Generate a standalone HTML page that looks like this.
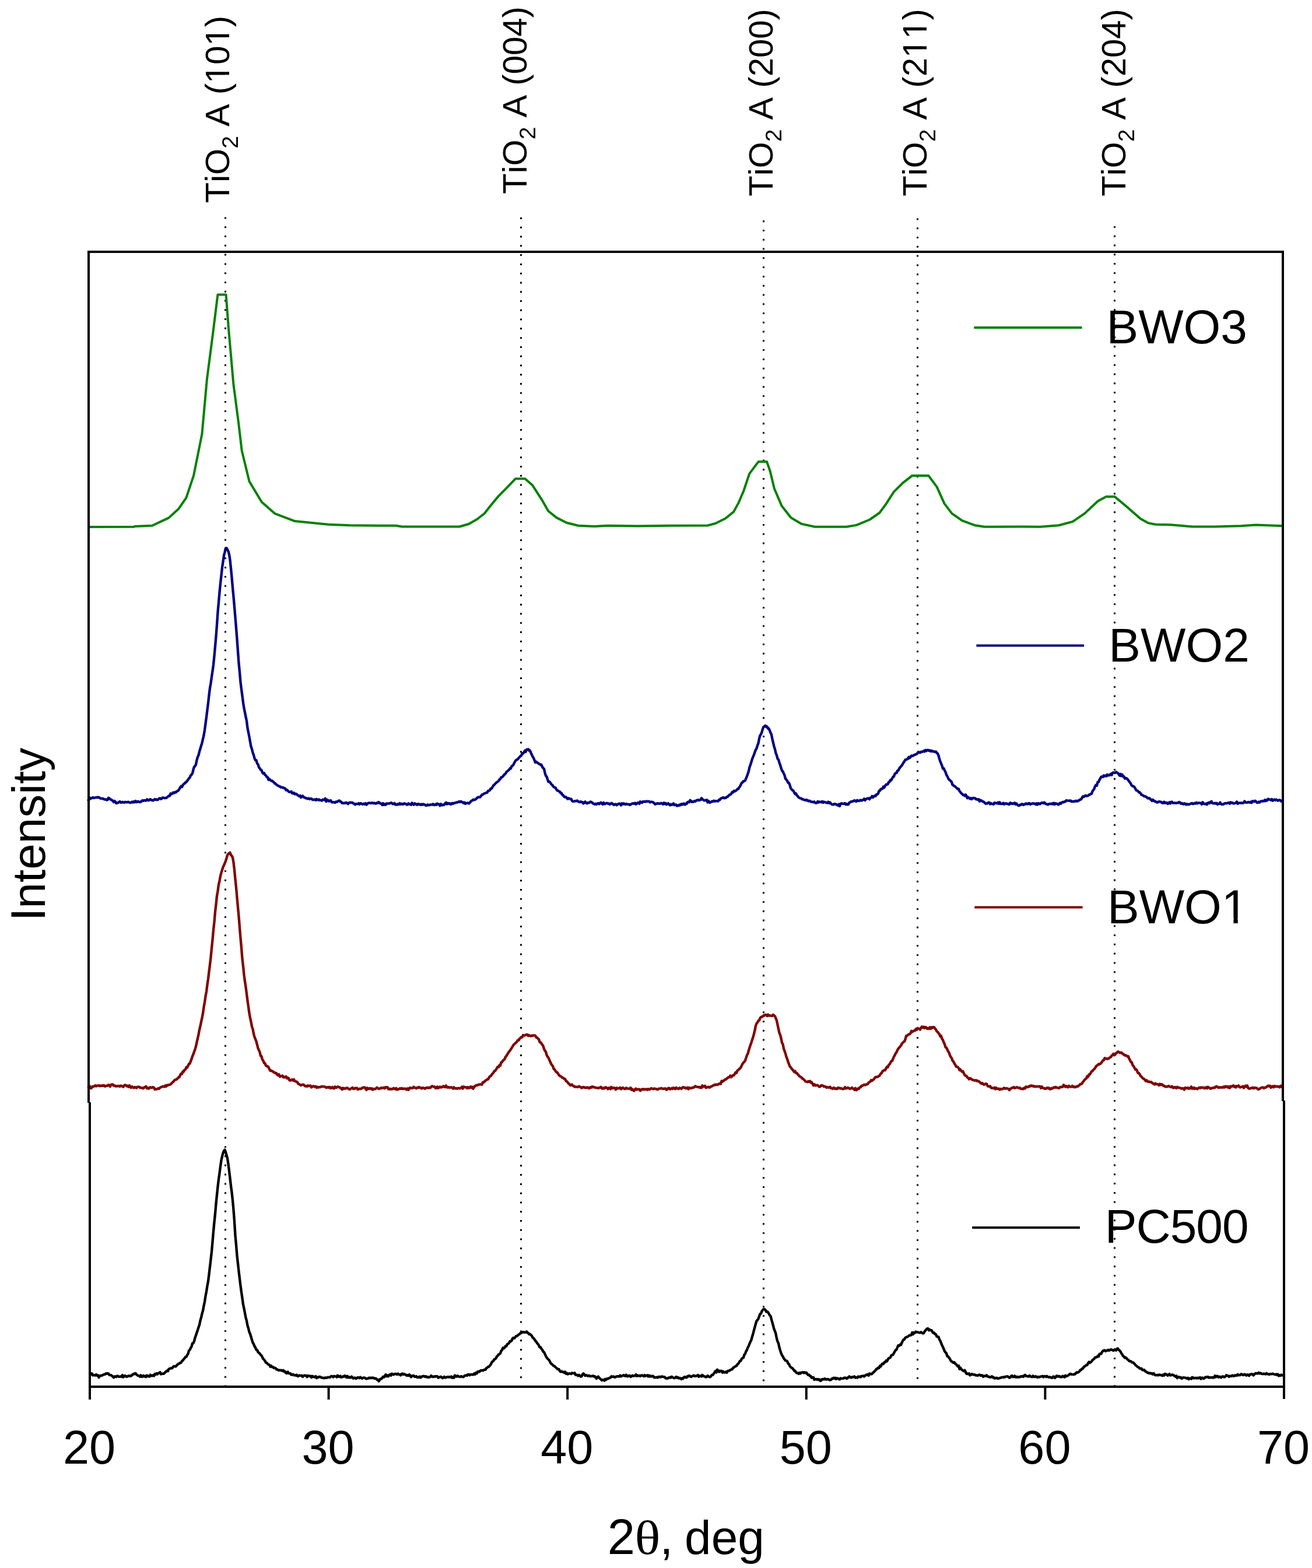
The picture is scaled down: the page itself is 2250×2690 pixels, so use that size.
<!DOCTYPE html><html><head><meta charset="utf-8"><style>html,body{margin:0;padding:0;background:#fff;width:2250px;height:2690px;overflow:hidden}svg{display:block}text{font-family:"Liberation Sans",Arial,sans-serif;fill:#000;font-kerning:none}</style></head><body>
<svg width="2250" height="2690" viewBox="0 0 2250 2690">
<rect width="2250" height="2690" fill="#fff"/>
<line x1="386.5" y1="372.5" x2="386.5" y2="2377" stroke="#000" stroke-width="3" stroke-dasharray="3 12.78"/>
<line x1="893.5" y1="373.0" x2="893.5" y2="2377" stroke="#000" stroke-width="3" stroke-dasharray="3 12.78"/>
<line x1="1309.5" y1="378.2" x2="1309.5" y2="2377" stroke="#000" stroke-width="3" stroke-dasharray="3 12.78"/>
<line x1="1573.5" y1="374.5" x2="1573.5" y2="2377" stroke="#000" stroke-width="3" stroke-dasharray="3 12.78"/>
<line x1="1911.5" y1="388.0" x2="1911.5" y2="2377" stroke="#000" stroke-width="3" stroke-dasharray="3 12.78"/>
<g fill="none" stroke-width="4.4" stroke-linejoin="round" stroke-linecap="butt">
<path stroke="#008000" stroke-width="4" d="M150.0 904.0L229.7 903.8 231.0 903.0 261.0 901.7 289.4 888.4 306.5 872.7 319.3 854.2 332.1 815.8 346.4 744.7 354.9 650.7 364.9 573.9 373.4 505.6 387.6 505.6 391.9 562.5 400.4 659.3 409.0 724.7 414.7 773.1 427.5 825.8 448.8 861.3 471.6 881.2 505.7 894.1 562.6 899.8 600.0 901.2 650.0 901.8 678.5 901.8 689.8 903.5 788.0 903.5 803.7 899.0 817.9 891.0 830.7 881.0 840.7 868.2 854.9 851.1 869.1 836.9 883.9 821.3 900.4 821.3 913.2 832.6 928.9 856.8 940.3 876.8 954.5 888.1 971.6 896.7 991.5 901.8 1020.0 903.0 1042.7 901.8 1094.0 902.4 1150.0 901.8 1214.0 901.4 1226.8 898.0 1243.9 889.5 1258.1 878.1 1266.7 862.4 1275.2 842.5 1285.2 812.6 1300.8 791.9 1315.0 791.9 1320.7 808.4 1327.9 838.3 1340.7 868.1 1356.3 888.1 1374.8 898.9 1397.6 903.7 1451.6 903.7 1468.7 900.9 1491.5 891.5 1508.6 879.5 1520.0 863.9 1532.8 843.9 1548.4 828.3 1564.1 816.1 1592.5 816.1 1606.7 835.4 1619.5 863.9 1632.4 880.9 1650.0 893.2 1672.3 901.3 1688.2 903.8 1755.2 903.5 1783.9 903.8 1815.7 901.3 1839.6 894.9 1860.4 880.6 1882.7 859.8 1897.0 851.9 1911.4 851.9 1930.5 867.8 1956.0 890.1 1968.7 897.1 1981.5 899.7 2007.0 900.3 2045.2 903.5 2083.5 903.5 2128.1 902.2 2153.6 900.6 2200.0 902.2"/>
<path stroke="#000080" d="M150.0 1374.1L151.5 1373.2 153.0 1371.5 154.5 1368.8 156.0 1369.9 157.5 1369.0 159.0 1368.0 160.5 1369.0 162.0 1368.7 163.5 1368.4 165.0 1367.9 166.5 1368.4 168.0 1367.4 169.5 1368.4 171.0 1368.5 172.5 1369.9 174.0 1369.9 175.5 1370.0 177.0 1370.1 178.5 1371.1 180.0 1371.6 181.5 1371.4 183.0 1372.6 184.5 1372.1 186.0 1368.7 187.5 1369.6 189.0 1371.4 190.5 1371.7 192.0 1373.0 193.5 1373.8 195.0 1376.2 196.5 1374.1 198.0 1375.5 199.5 1378.2 201.0 1377.2 202.5 1377.2 204.0 1376.1 205.5 1375.0 207.0 1376.7 208.5 1376.8 210.0 1375.8 211.5 1376.4 213.0 1376.8 214.5 1375.8 216.0 1376.2 217.5 1376.2 219.0 1376.2 220.5 1375.7 222.0 1376.8 223.5 1377.1 225.0 1376.6 226.5 1375.5 228.0 1376.6 229.5 1375.1 231.0 1376.1 232.5 1374.2 234.0 1376.1 235.5 1375.6 237.0 1374.8 238.5 1375.8 240.0 1376.0 241.5 1375.7 243.0 1374.0 244.5 1373.2 246.0 1373.9 247.5 1373.0 249.0 1373.4 250.5 1373.7 252.0 1371.3 253.5 1372.6 255.0 1373.2 256.5 1371.7 258.0 1371.2 259.5 1372.8 261.0 1372.6 262.5 1373.4 264.0 1372.3 265.5 1371.0 267.0 1372.0 268.5 1371.4 270.0 1372.3 271.5 1371.5 273.0 1369.6 274.5 1369.5 276.0 1370.7 277.5 1369.9 279.0 1368.3 280.5 1368.7 282.0 1369.1 283.5 1369.0 285.0 1369.0 286.5 1367.9 288.0 1366.6 289.5 1365.3 291.0 1365.4 292.5 1361.4 294.0 1362.4 295.5 1361.6 297.0 1359.6 298.5 1360.5 300.0 1358.9 301.5 1359.5 303.0 1357.7 304.5 1357.2 306.0 1356.2 307.5 1353.7 309.0 1350.9 310.5 1348.7 312.0 1350.2 313.5 1347.0 315.0 1345.0 316.5 1344.3 318.0 1342.4 319.5 1341.8 321.0 1339.5 322.5 1337.8 324.0 1335.2 325.5 1334.1 327.0 1330.3 328.5 1329.1 330.0 1326.8 331.5 1320.4 333.0 1315.7 334.5 1314.3 336.0 1311.6 337.5 1303.8 339.0 1298.8 340.5 1295.5 342.0 1289.2 343.5 1284.5 345.0 1279.4 346.5 1274.6 348.0 1267.7 349.5 1261.5 351.0 1252.5 352.5 1241.4 354.0 1230.3 355.5 1217.9 357.0 1206.2 358.5 1192.6 360.0 1180.6 361.5 1172.1 363.0 1161.2 364.5 1151.3 366.0 1140.3 367.5 1125.4 369.0 1108.9 370.5 1091.8 372.0 1072.1 373.5 1050.1 375.0 1033.4 376.5 1016.2 378.0 1001.1 379.5 987.4 381.0 973.8 382.5 963.5 384.0 952.9 385.5 947.5 387.0 940.5 388.5 940.3 390.0 942.6 391.5 945.7 393.0 951.1 394.5 960.6 396.0 975.1 397.5 990.7 399.0 1007.9 400.5 1023.7 402.0 1040.7 403.5 1058.9 405.0 1077.3 406.5 1096.4 408.0 1117.2 409.5 1137.8 411.0 1153.1 412.5 1170.2 414.0 1182.4 415.5 1193.6 417.0 1205.4 418.5 1214.9 420.0 1222.2 421.5 1229.7 423.0 1236.8 424.5 1249.0 426.0 1256.5 427.5 1263.9 429.0 1272.7 430.5 1280.8 432.0 1285.0 433.5 1291.3 435.0 1295.2 436.5 1300.8 438.0 1304.2 439.5 1304.1 441.0 1309.7 442.5 1311.2 444.0 1316.4 445.5 1318.0 447.0 1320.6 448.5 1321.1 450.0 1325.4 451.5 1327.1 453.0 1326.1 454.5 1329.4 456.0 1330.4 457.5 1332.9 459.0 1333.6 460.5 1337.9 462.0 1336.5 463.5 1338.0 465.0 1339.5 466.5 1339.4 468.0 1340.9 469.5 1341.9 471.0 1343.8 472.5 1344.3 474.0 1346.1 475.5 1347.2 477.0 1347.8 478.5 1348.9 480.0 1349.2 481.5 1350.7 483.0 1350.4 484.5 1351.2 486.0 1351.3 487.5 1352.2 489.0 1352.6 490.5 1355.4 492.0 1355.0 493.5 1356.3 495.0 1358.1 496.5 1358.8 498.0 1358.7 499.5 1357.9 501.0 1360.7 502.5 1361.2 504.0 1360.1 505.5 1362.5 507.0 1361.8 508.5 1362.2 510.0 1364.1 511.5 1364.8 513.0 1365.9 514.5 1364.8 516.0 1368.1 517.5 1366.0 519.0 1365.3 520.5 1367.7 522.0 1367.6 523.5 1369.0 525.0 1369.2 526.5 1369.9 528.0 1370.4 529.5 1369.5 531.0 1370.9 532.5 1370.1 534.0 1370.2 535.5 1371.6 537.0 1372.2 538.5 1371.8 540.0 1371.4 541.5 1372.9 543.0 1370.8 544.5 1371.7 546.0 1372.7 547.5 1371.5 549.0 1372.9 550.5 1372.9 552.0 1373.6 553.5 1371.8 555.0 1371.8 556.5 1372.4 558.0 1369.9 559.5 1375.1 561.0 1372.1 562.5 1372.7 564.0 1374.6 565.5 1374.2 567.0 1373.1 568.5 1375.7 570.0 1376.5 571.5 1376.0 573.0 1376.5 574.5 1377.1 576.0 1375.4 577.5 1375.9 579.0 1375.0 580.5 1373.9 582.0 1373.5 583.5 1375.2 585.0 1375.5 586.5 1377.8 588.0 1377.4 589.5 1378.1 591.0 1377.5 592.5 1377.6 594.0 1376.7 595.5 1378.2 597.0 1379.2 598.5 1377.2 600.0 1376.7 601.5 1377.0 603.0 1376.8 604.5 1377.0 606.0 1378.4 607.5 1378.6 609.0 1380.4 610.5 1379.1 612.0 1379.1 613.5 1379.4 615.0 1378.1 616.5 1379.8 618.0 1378.2 619.5 1378.5 621.0 1379.4 622.5 1379.8 624.0 1378.7 625.5 1379.8 627.0 1378.2 628.5 1380.6 630.0 1378.9 631.5 1377.9 633.0 1377.4 634.5 1377.7 636.0 1377.9 637.5 1377.3 639.0 1377.5 640.5 1378.1 642.0 1377.5 643.5 1378.5 645.0 1378.5 646.5 1377.3 648.0 1377.6 649.5 1376.0 651.0 1378.0 652.5 1377.9 654.0 1379.1 655.5 1381.0 657.0 1378.1 658.5 1380.8 660.0 1379.5 661.5 1380.7 663.0 1378.4 664.5 1378.5 666.0 1378.6 667.5 1378.5 669.0 1377.9 670.5 1377.2 672.0 1377.7 673.5 1379.3 675.0 1379.0 676.5 1377.9 678.0 1380.5 679.5 1380.2 681.0 1380.5 682.5 1379.2 684.0 1380.0 685.5 1378.2 687.0 1379.8 688.5 1378.8 690.0 1379.7 691.5 1379.9 693.0 1378.2 694.5 1378.9 696.0 1379.2 697.5 1380.5 699.0 1380.3 700.5 1378.4 702.0 1379.7 703.5 1379.7 705.0 1380.8 706.5 1377.4 708.0 1378.7 709.5 1380.6 711.0 1378.4 712.5 1378.7 714.0 1380.3 715.5 1380.7 717.0 1379.1 718.5 1380.1 720.0 1379.6 721.5 1380.9 723.0 1379.6 724.5 1380.7 726.0 1379.4 727.5 1380.4 729.0 1380.7 730.5 1382.1 732.0 1381.6 733.5 1380.3 735.0 1381.4 736.5 1381.2 738.0 1380.4 739.5 1380.4 741.0 1380.6 742.5 1379.4 744.0 1381.1 745.5 1380.9 747.0 1379.5 748.5 1380.7 750.0 1378.6 751.5 1379.5 753.0 1379.8 754.5 1382.3 756.0 1379.2 757.5 1381.2 759.0 1381.3 760.5 1380.4 762.0 1380.7 763.5 1378.2 765.0 1376.8 766.5 1379.5 768.0 1377.9 769.5 1378.7 771.0 1378.0 772.5 1379.9 774.0 1379.5 775.5 1377.7 777.0 1378.8 778.5 1377.9 780.0 1377.4 781.5 1377.2 783.0 1376.4 784.5 1376.6 786.0 1375.8 787.5 1374.9 789.0 1376.0 790.5 1374.7 792.0 1375.9 793.5 1376.4 795.0 1377.8 796.5 1376.5 798.0 1378.9 799.5 1377.9 801.0 1377.8 802.5 1377.5 804.0 1378.5 805.5 1377.4 807.0 1375.3 808.5 1374.0 810.0 1373.1 811.5 1371.8 813.0 1372.4 814.5 1371.9 816.0 1370.8 817.5 1369.6 819.0 1368.1 820.5 1367.6 822.0 1367.4 823.5 1367.5 825.0 1365.5 826.5 1363.5 828.0 1363.1 829.5 1362.0 831.0 1361.0 832.5 1360.7 834.0 1359.8 835.5 1359.8 837.0 1356.8 838.5 1356.6 840.0 1355.7 841.5 1352.9 843.0 1352.9 844.5 1350.4 846.0 1347.7 847.5 1346.6 849.0 1344.9 850.5 1343.2 852.0 1342.0 853.5 1341.0 855.0 1339.9 856.5 1337.3 858.0 1336.5 859.5 1333.5 861.0 1333.4 862.5 1332.0 864.0 1329.9 865.5 1328.4 867.0 1327.1 868.5 1324.4 870.0 1323.1 871.5 1322.0 873.0 1320.6 874.5 1318.3 876.0 1318.5 877.5 1314.4 879.0 1313.6 880.5 1312.0 882.0 1308.7 883.5 1306.1 885.0 1303.9 886.5 1303.2 888.0 1302.5 889.5 1300.3 891.0 1298.9 892.5 1297.0 894.0 1296.4 895.5 1292.3 897.0 1292.7 898.5 1290.8 900.0 1287.9 901.5 1289.9 903.0 1285.9 904.5 1285.6 906.0 1285.3 907.5 1287.9 909.0 1287.7 910.5 1291.6 912.0 1294.7 913.5 1298.1 915.0 1300.3 916.5 1304.0 918.0 1308.1 919.5 1306.7 921.0 1307.9 922.5 1309.0 924.0 1310.4 925.5 1310.6 927.0 1312.2 928.5 1312.0 930.0 1315.6 931.5 1317.6 933.0 1319.0 934.5 1325.8 936.0 1330.7 937.5 1332.3 939.0 1337.0 940.5 1341.2 942.0 1340.9 943.5 1342.4 945.0 1344.6 946.5 1346.5 948.0 1347.6 949.5 1350.0 951.0 1351.1 952.5 1351.1 954.0 1353.9 955.5 1356.1 957.0 1356.5 958.5 1357.6 960.0 1358.1 961.5 1360.7 963.0 1360.6 964.5 1363.8 966.0 1364.5 967.5 1366.9 969.0 1367.6 970.5 1367.2 972.0 1369.1 973.5 1370.7 975.0 1369.2 976.5 1370.3 978.0 1370.7 979.5 1370.8 981.0 1373.8 982.5 1374.8 984.0 1374.8 985.5 1374.5 987.0 1374.2 988.5 1374.4 990.0 1373.5 991.5 1375.1 993.0 1375.6 994.5 1376.0 996.0 1375.1 997.5 1376.1 999.0 1376.3 1000.5 1378.4 1002.0 1377.2 1003.5 1375.3 1005.0 1377.2 1006.5 1378.4 1008.0 1377.2 1009.5 1377.4 1011.0 1376.9 1012.5 1375.4 1014.0 1376.0 1015.5 1376.9 1017.0 1378.4 1018.5 1379.1 1020.0 1379.8 1021.5 1378.9 1023.0 1379.9 1024.5 1378.6 1026.0 1377.9 1027.5 1379.4 1029.0 1378.0 1030.5 1376.8 1032.0 1378.6 1033.5 1379.8 1035.0 1376.9 1036.5 1379.2 1038.0 1379.0 1039.5 1377.9 1041.0 1377.8 1042.5 1378.7 1044.0 1378.5 1045.5 1380.1 1047.0 1379.3 1048.5 1377.7 1050.0 1378.4 1051.5 1379.9 1053.0 1380.9 1054.5 1379.6 1056.0 1379.7 1057.5 1381.3 1059.0 1379.7 1060.5 1379.5 1062.0 1378.4 1063.5 1379.1 1065.0 1381.5 1066.5 1378.4 1068.0 1379.7 1069.5 1378.3 1071.0 1379.5 1072.5 1380.1 1074.0 1379.0 1075.5 1379.9 1077.0 1379.9 1078.5 1379.7 1080.0 1380.9 1081.5 1380.2 1083.0 1379.2 1084.5 1378.7 1086.0 1378.2 1087.5 1378.8 1089.0 1377.5 1090.5 1379.8 1092.0 1378.9 1093.5 1377.1 1095.0 1377.0 1096.5 1378.8 1098.0 1375.3 1099.5 1376.2 1101.0 1377.1 1102.5 1375.1 1104.0 1375.2 1105.5 1375.0 1107.0 1375.5 1108.5 1374.7 1110.0 1374.7 1111.5 1374.9 1113.0 1374.8 1114.5 1376.5 1116.0 1375.6 1117.5 1375.6 1119.0 1375.9 1120.5 1376.6 1122.0 1378.0 1123.5 1379.7 1125.0 1379.1 1126.5 1378.5 1128.0 1378.1 1129.5 1378.6 1131.0 1378.7 1132.5 1378.5 1134.0 1377.7 1135.5 1378.4 1137.0 1379.8 1138.5 1377.2 1140.0 1379.2 1141.5 1377.8 1143.0 1380.2 1144.5 1379.4 1146.0 1378.2 1147.5 1380.1 1149.0 1381.5 1150.5 1379.8 1152.0 1380.8 1153.5 1379.8 1155.0 1378.4 1156.5 1381.2 1158.0 1380.9 1159.5 1380.4 1161.0 1382.6 1162.5 1382.1 1164.0 1381.0 1165.5 1381.8 1167.0 1379.7 1168.5 1380.7 1170.0 1379.0 1171.5 1380.1 1173.0 1378.5 1174.5 1380.5 1176.0 1378.7 1177.5 1379.0 1179.0 1376.1 1180.5 1375.7 1182.0 1376.3 1183.5 1372.8 1185.0 1374.2 1186.5 1375.9 1188.0 1375.3 1189.5 1375.6 1191.0 1374.2 1192.5 1374.8 1194.0 1373.5 1195.5 1372.7 1197.0 1372.3 1198.5 1373.0 1200.0 1372.6 1201.5 1372.2 1203.0 1369.3 1204.5 1370.7 1206.0 1372.2 1207.5 1373.3 1209.0 1372.9 1210.5 1373.1 1212.0 1372.2 1213.5 1376.5 1215.0 1374.0 1216.5 1376.7 1218.0 1376.8 1219.5 1375.6 1221.0 1374.7 1222.5 1375.1 1224.0 1373.7 1225.5 1374.7 1227.0 1374.2 1228.5 1374.4 1230.0 1374.4 1231.5 1374.6 1233.0 1372.0 1234.5 1372.4 1236.0 1370.0 1237.5 1369.2 1239.0 1368.8 1240.5 1368.0 1242.0 1369.3 1243.5 1368.8 1245.0 1368.7 1246.5 1367.0 1248.0 1366.7 1249.5 1365.1 1251.0 1363.4 1252.5 1363.4 1254.0 1361.7 1255.5 1359.1 1257.0 1359.5 1258.5 1356.7 1260.0 1357.6 1261.5 1356.6 1263.0 1355.8 1264.5 1353.8 1266.0 1353.6 1267.5 1351.0 1269.0 1349.2 1270.5 1346.1 1272.0 1343.0 1273.5 1342.2 1275.0 1340.1 1276.5 1340.0 1278.0 1338.8 1279.5 1335.4 1281.0 1331.4 1282.5 1327.4 1284.0 1322.8 1285.5 1315.9 1287.0 1312.0 1288.5 1307.1 1290.0 1302.1 1291.5 1298.2 1293.0 1294.9 1294.5 1290.2 1296.0 1286.4 1297.5 1283.8 1299.0 1278.8 1300.5 1275.1 1302.0 1267.3 1303.5 1261.6 1305.0 1259.8 1306.5 1256.0 1308.0 1250.7 1309.5 1246.9 1311.0 1246.4 1312.5 1244.9 1314.0 1246.9 1315.5 1246.4 1317.0 1249.8 1318.5 1249.8 1320.0 1253.3 1321.5 1257.1 1323.0 1260.3 1324.5 1268.0 1326.0 1274.1 1327.5 1280.6 1329.0 1285.2 1330.5 1292.2 1332.0 1295.7 1333.5 1301.6 1335.0 1303.2 1336.5 1308.2 1338.0 1312.4 1339.5 1317.5 1341.0 1321.8 1342.5 1323.5 1344.0 1326.9 1345.5 1330.0 1347.0 1335.9 1348.5 1337.4 1350.0 1339.5 1351.5 1342.7 1353.0 1343.2 1354.5 1346.9 1356.0 1352.2 1357.5 1354.1 1359.0 1355.8 1360.5 1356.4 1362.0 1359.4 1363.5 1362.2 1365.0 1361.3 1366.5 1364.4 1368.0 1365.8 1369.5 1367.9 1371.0 1368.7 1372.5 1369.4 1374.0 1369.6 1375.5 1371.1 1377.0 1371.2 1378.5 1372.0 1380.0 1372.3 1381.5 1373.1 1383.0 1372.1 1384.5 1372.7 1386.0 1374.4 1387.5 1373.7 1389.0 1374.1 1390.5 1375.5 1392.0 1375.5 1393.5 1375.8 1395.0 1376.4 1396.5 1375.4 1398.0 1377.0 1399.5 1377.8 1401.0 1377.0 1402.5 1374.9 1404.0 1376.6 1405.5 1375.5 1407.0 1376.0 1408.5 1376.2 1410.0 1374.9 1411.5 1377.0 1413.0 1375.6 1414.5 1376.4 1416.0 1376.4 1417.5 1377.2 1419.0 1377.5 1420.5 1375.7 1422.0 1377.8 1423.5 1376.5 1425.0 1378.6 1426.5 1380.0 1428.0 1380.2 1429.5 1380.4 1431.0 1378.9 1432.5 1379.6 1434.0 1379.8 1435.5 1381.2 1437.0 1381.7 1438.5 1379.7 1440.0 1383.0 1441.5 1379.1 1443.0 1378.2 1444.5 1378.8 1446.0 1378.9 1447.5 1378.9 1449.0 1378.0 1450.5 1380.1 1452.0 1379.0 1453.5 1380.4 1455.0 1379.9 1456.5 1376.9 1458.0 1376.2 1459.5 1375.1 1461.0 1375.3 1462.5 1374.4 1464.0 1374.2 1465.5 1373.1 1467.0 1374.3 1468.5 1375.2 1470.0 1372.8 1471.5 1373.9 1473.0 1374.0 1474.5 1373.2 1476.0 1372.4 1477.5 1373.6 1479.0 1372.8 1480.5 1372.1 1482.0 1370.4 1483.5 1373.0 1485.0 1371.1 1486.5 1370.0 1488.0 1369.9 1489.5 1369.4 1491.0 1371.2 1492.5 1368.9 1494.0 1368.3 1495.5 1365.9 1497.0 1368.2 1498.5 1366.1 1500.0 1365.3 1501.5 1365.8 1503.0 1363.0 1504.5 1362.8 1506.0 1361.2 1507.5 1356.8 1509.0 1356.5 1510.5 1353.6 1512.0 1353.5 1513.5 1352.9 1515.0 1349.5 1516.5 1351.1 1518.0 1348.0 1519.5 1346.0 1521.0 1345.8 1522.5 1345.3 1524.0 1341.9 1525.5 1341.4 1527.0 1338.2 1528.5 1338.5 1530.0 1335.5 1531.5 1332.9 1533.0 1332.0 1534.5 1327.7 1536.0 1326.2 1537.5 1326.1 1539.0 1322.3 1540.5 1321.8 1542.0 1319.0 1543.5 1316.5 1545.0 1315.0 1546.5 1313.3 1548.0 1310.8 1549.5 1308.2 1551.0 1306.1 1552.5 1303.5 1554.0 1303.3 1555.5 1302.3 1557.0 1301.7 1558.5 1298.7 1560.0 1300.3 1561.5 1298.7 1563.0 1296.4 1564.5 1296.8 1566.0 1296.5 1567.5 1295.3 1569.0 1294.7 1570.5 1294.2 1572.0 1293.5 1573.5 1292.2 1575.0 1290.0 1576.5 1290.8 1578.0 1291.3 1579.5 1289.8 1581.0 1290.0 1582.5 1289.3 1584.0 1288.1 1585.5 1289.5 1587.0 1286.7 1588.5 1288.3 1590.0 1287.0 1591.5 1286.6 1593.0 1288.0 1594.5 1287.2 1596.0 1288.9 1597.5 1287.7 1599.0 1289.2 1600.5 1288.8 1602.0 1289.6 1603.5 1289.8 1605.0 1289.4 1606.5 1291.9 1608.0 1292.5 1609.5 1296.1 1611.0 1301.9 1612.5 1306.2 1614.0 1310.0 1615.5 1313.6 1617.0 1318.5 1618.5 1318.3 1620.0 1321.7 1621.5 1324.5 1623.0 1329.2 1624.5 1331.5 1626.0 1335.0 1627.5 1337.4 1629.0 1338.5 1630.5 1340.0 1632.0 1341.7 1633.5 1346.5 1635.0 1347.2 1636.5 1348.6 1638.0 1349.3 1639.5 1350.9 1641.0 1352.2 1642.5 1353.7 1644.0 1353.4 1645.5 1357.2 1647.0 1358.7 1648.5 1360.9 1650.0 1362.1 1651.5 1363.7 1653.0 1363.8 1654.5 1365.4 1656.0 1363.3 1657.5 1365.7 1659.0 1369.3 1660.5 1367.6 1662.0 1369.1 1663.5 1370.5 1665.0 1369.3 1666.5 1370.9 1668.0 1369.2 1669.5 1368.9 1671.0 1369.6 1672.5 1369.5 1674.0 1371.3 1675.5 1371.2 1677.0 1372.1 1678.5 1371.2 1680.0 1374.8 1681.5 1372.8 1683.0 1373.3 1684.5 1374.7 1686.0 1375.1 1687.5 1375.9 1689.0 1377.5 1690.5 1378.8 1692.0 1378.4 1693.5 1378.3 1695.0 1376.8 1696.5 1376.7 1698.0 1379.5 1699.5 1378.0 1701.0 1379.0 1702.5 1379.3 1704.0 1379.8 1705.5 1377.0 1707.0 1377.7 1708.5 1377.9 1710.0 1378.3 1711.5 1376.7 1713.0 1379.0 1714.5 1376.4 1716.0 1379.1 1717.5 1379.1 1719.0 1379.0 1720.5 1377.5 1722.0 1379.8 1723.5 1378.4 1725.0 1378.4 1726.5 1378.8 1728.0 1379.0 1729.5 1379.8 1731.0 1380.1 1732.5 1377.2 1734.0 1378.2 1735.5 1379.1 1737.0 1378.3 1738.5 1378.7 1740.0 1377.3 1741.5 1380.0 1743.0 1378.3 1744.5 1380.4 1746.0 1381.7 1747.5 1382.2 1749.0 1380.8 1750.5 1381.0 1752.0 1379.4 1753.5 1379.4 1755.0 1380.9 1756.5 1379.9 1758.0 1379.7 1759.5 1378.3 1761.0 1379.4 1762.5 1379.5 1764.0 1377.9 1765.5 1378.1 1767.0 1380.1 1768.5 1379.0 1770.0 1378.8 1771.5 1378.2 1773.0 1378.6 1774.5 1378.8 1776.0 1380.1 1777.5 1378.3 1779.0 1380.5 1780.5 1378.1 1782.0 1378.6 1783.5 1379.5 1785.0 1378.1 1786.5 1377.1 1788.0 1377.4 1789.5 1378.0 1791.0 1376.6 1792.5 1378.6 1794.0 1379.4 1795.5 1379.5 1797.0 1380.6 1798.5 1379.3 1800.0 1379.1 1801.5 1379.0 1803.0 1379.3 1804.5 1378.2 1806.0 1379.7 1807.5 1377.7 1809.0 1380.0 1810.5 1378.3 1812.0 1378.9 1813.5 1379.2 1815.0 1380.5 1816.5 1379.1 1818.0 1377.5 1819.5 1378.7 1821.0 1376.9 1822.5 1375.9 1824.0 1376.4 1825.5 1375.3 1827.0 1375.3 1828.5 1373.2 1830.0 1373.5 1831.5 1373.6 1833.0 1373.6 1834.5 1373.7 1836.0 1373.5 1837.5 1375.2 1839.0 1374.8 1840.5 1375.3 1842.0 1374.6 1843.5 1374.9 1845.0 1373.8 1846.5 1374.5 1848.0 1374.5 1849.5 1373.2 1851.0 1373.0 1852.5 1371.5 1854.0 1371.4 1855.5 1368.8 1857.0 1366.3 1858.5 1367.2 1860.0 1365.9 1861.5 1364.6 1863.0 1365.8 1864.5 1365.2 1866.0 1365.0 1867.5 1363.7 1869.0 1363.2 1870.5 1362.1 1872.0 1361.7 1873.5 1357.4 1875.0 1355.5 1876.5 1353.3 1878.0 1348.9 1879.5 1346.7 1881.0 1347.8 1882.5 1341.8 1884.0 1341.5 1885.5 1337.8 1887.0 1335.6 1888.5 1332.6 1890.0 1332.3 1891.5 1332.9 1893.0 1330.3 1894.5 1331.5 1896.0 1330.6 1897.5 1331.5 1899.0 1328.9 1900.5 1330.4 1902.0 1330.1 1903.5 1329.1 1905.0 1327.6 1906.5 1329.6 1908.0 1325.8 1909.5 1325.3 1911.0 1325.7 1912.5 1325.7 1914.0 1324.2 1915.5 1325.5 1917.0 1326.1 1918.5 1328.3 1920.0 1330.6 1921.5 1327.8 1923.0 1331.3 1924.5 1328.9 1926.0 1332.4 1927.5 1332.2 1929.0 1335.7 1930.5 1334.9 1932.0 1335.2 1933.5 1336.8 1935.0 1338.4 1936.5 1340.9 1938.0 1342.4 1939.5 1345.0 1941.0 1347.7 1942.5 1348.8 1944.0 1348.9 1945.5 1350.4 1947.0 1352.8 1948.5 1355.9 1950.0 1356.1 1951.5 1357.2 1953.0 1359.3 1954.5 1359.3 1956.0 1360.9 1957.5 1363.6 1959.0 1363.9 1960.5 1364.7 1962.0 1366.1 1963.5 1366.1 1965.0 1366.7 1966.5 1367.6 1968.0 1369.3 1969.5 1369.5 1971.0 1369.1 1972.5 1370.6 1974.0 1372.1 1975.5 1373.9 1977.0 1371.9 1978.5 1374.0 1980.0 1374.0 1981.5 1375.5 1983.0 1375.5 1984.5 1376.7 1986.0 1376.0 1987.5 1375.2 1989.0 1375.2 1990.5 1376.0 1992.0 1375.9 1993.5 1377.8 1995.0 1377.6 1996.5 1375.7 1998.0 1377.8 1999.5 1376.9 2001.0 1376.9 2002.5 1379.0 2004.0 1378.3 2005.5 1376.3 2007.0 1378.4 2008.5 1375.8 2010.0 1375.7 2011.5 1377.6 2013.0 1377.6 2014.5 1377.4 2016.0 1377.6 2017.5 1377.7 2019.0 1377.4 2020.5 1377.3 2022.0 1375.9 2023.5 1376.7 2025.0 1378.7 2026.5 1377.8 2028.0 1379.0 2029.5 1379.6 2031.0 1378.2 2032.5 1378.8 2034.0 1380.4 2035.5 1379.2 2037.0 1380.2 2038.5 1380.1 2040.0 1379.6 2041.5 1379.0 2043.0 1378.4 2044.5 1378.0 2046.0 1379.2 2047.5 1378.7 2049.0 1377.8 2050.5 1378.4 2052.0 1376.9 2053.5 1378.3 2055.0 1377.4 2056.5 1377.4 2058.0 1377.6 2059.5 1377.6 2061.0 1380.0 2062.5 1376.4 2064.0 1378.2 2065.5 1379.4 2067.0 1379.2 2068.5 1378.5 2070.0 1380.2 2071.5 1377.4 2073.0 1376.7 2074.5 1378.0 2076.0 1375.8 2077.5 1374.8 2079.0 1377.9 2080.5 1378.0 2082.0 1378.4 2083.5 1377.7 2085.0 1378.6 2086.5 1377.7 2088.0 1380.1 2089.5 1379.1 2091.0 1378.9 2092.5 1376.5 2094.0 1379.2 2095.5 1380.0 2097.0 1379.9 2098.5 1379.5 2100.0 1378.5 2101.5 1377.9 2103.0 1378.3 2104.5 1377.8 2106.0 1377.4 2107.5 1376.9 2109.0 1378.7 2110.5 1376.3 2112.0 1377.5 2113.5 1377.0 2115.0 1378.3 2116.5 1378.4 2118.0 1377.9 2119.5 1377.3 2121.0 1375.4 2122.5 1378.8 2124.0 1377.7 2125.5 1377.4 2127.0 1377.6 2128.5 1377.3 2130.0 1377.9 2131.5 1377.7 2133.0 1376.8 2134.5 1374.5 2136.0 1376.6 2137.5 1376.8 2139.0 1376.7 2140.5 1376.0 2142.0 1376.4 2143.5 1376.9 2145.0 1375.5 2146.5 1377.2 2148.0 1374.2 2149.5 1374.9 2151.0 1375.2 2152.5 1373.8 2154.0 1375.0 2155.5 1377.0 2157.0 1376.9 2158.5 1375.6 2160.0 1376.8 2161.5 1375.2 2163.0 1374.3 2164.5 1374.6 2166.0 1374.1 2167.5 1374.6 2169.0 1372.4 2170.5 1374.2 2172.0 1372.3 2173.5 1373.1 2175.0 1370.6 2176.5 1371.4 2178.0 1371.8 2179.5 1372.7 2181.0 1371.0 2182.5 1373.7 2184.0 1372.7 2185.5 1371.6 2187.0 1372.9 2188.5 1371.6 2190.0 1372.4 2191.5 1373.7 2193.0 1372.8 2194.5 1372.3 2196.0 1373.2 2197.5 1374.9 2199.0 1375.3"/>
<path stroke="#800000" d="M150.0 1866.1L151.5 1865.6 153.0 1865.7 154.5 1863.7 156.0 1867.1 157.5 1865.8 159.0 1863.8 160.5 1864.1 162.0 1863.2 163.5 1862.2 165.0 1863.5 166.5 1862.4 168.0 1862.5 169.5 1862.2 171.0 1863.2 172.5 1862.6 174.0 1863.0 175.5 1861.9 177.0 1862.7 178.5 1862.1 180.0 1863.7 181.5 1863.0 183.0 1862.8 184.5 1862.5 186.0 1861.1 187.5 1862.7 189.0 1864.0 190.5 1860.7 192.0 1860.5 193.5 1860.5 195.0 1862.7 196.5 1862.3 198.0 1863.5 199.5 1863.5 201.0 1863.2 202.5 1863.4 204.0 1863.0 205.5 1864.0 207.0 1862.4 208.5 1863.1 210.0 1863.6 211.5 1864.7 213.0 1862.0 214.5 1861.4 216.0 1861.9 217.5 1863.5 219.0 1862.7 220.5 1864.6 222.0 1862.2 223.5 1865.4 225.0 1865.9 226.5 1864.0 228.0 1865.4 229.5 1866.2 231.0 1865.0 232.5 1865.4 234.0 1866.5 235.5 1864.8 237.0 1864.6 238.5 1864.5 240.0 1866.1 241.5 1865.8 243.0 1866.3 244.5 1866.6 246.0 1867.2 247.5 1865.4 249.0 1864.8 250.5 1863.8 252.0 1867.2 253.5 1866.3 255.0 1867.6 256.5 1866.1 258.0 1865.2 259.5 1866.0 261.0 1865.6 262.5 1865.0 264.0 1866.0 265.5 1869.0 267.0 1868.3 268.5 1868.6 270.0 1867.9 271.5 1867.1 273.0 1867.7 274.5 1866.1 276.0 1864.9 277.5 1864.9 279.0 1863.7 280.5 1864.1 282.0 1864.4 283.5 1862.2 285.0 1863.8 286.5 1861.6 288.0 1862.1 289.5 1860.9 291.0 1860.9 292.5 1860.3 294.0 1858.7 295.5 1857.2 297.0 1855.9 298.5 1854.4 300.0 1852.5 301.5 1852.4 303.0 1851.5 304.5 1850.3 306.0 1848.3 307.5 1848.1 309.0 1844.4 310.5 1841.9 312.0 1842.4 313.5 1838.2 315.0 1838.5 316.5 1835.3 318.0 1834.9 319.5 1830.9 321.0 1831.5 322.5 1828.3 324.0 1825.1 325.5 1824.7 327.0 1820.8 328.5 1816.7 330.0 1812.2 331.5 1808.7 333.0 1804.2 334.5 1800.2 336.0 1795.2 337.5 1788.0 339.0 1781.6 340.5 1774.7 342.0 1766.7 343.5 1760.2 345.0 1753.3 346.5 1746.2 348.0 1738.5 349.5 1727.9 351.0 1719.7 352.5 1709.0 354.0 1701.3 355.5 1689.2 357.0 1679.3 358.5 1667.0 360.0 1655.0 361.5 1642.2 363.0 1626.8 364.5 1612.1 366.0 1595.2 367.5 1581.9 369.0 1564.3 370.5 1551.4 372.0 1537.1 373.5 1528.6 375.0 1517.5 376.5 1511.2 378.0 1502.9 379.5 1497.2 381.0 1492.4 382.5 1487.6 384.0 1484.3 385.5 1481.0 387.0 1477.2 388.5 1472.4 390.0 1467.2 391.5 1464.8 393.0 1464.0 394.5 1462.7 396.0 1466.8 397.5 1468.2 399.0 1471.2 400.5 1479.6 402.0 1492.6 403.5 1508.2 405.0 1522.6 406.5 1539.6 408.0 1556.4 409.5 1572.4 411.0 1591.4 412.5 1609.4 414.0 1625.7 415.5 1644.6 417.0 1657.6 418.5 1672.3 420.0 1683.7 421.5 1693.3 423.0 1704.7 424.5 1716.7 426.0 1726.9 427.5 1738.2 429.0 1746.1 430.5 1753.0 432.0 1761.1 433.5 1765.4 435.0 1773.3 436.5 1779.0 438.0 1782.6 439.5 1786.5 441.0 1792.3 442.5 1798.3 444.0 1801.5 445.5 1805.0 447.0 1811.5 448.5 1812.3 450.0 1817.8 451.5 1819.9 453.0 1823.7 454.5 1824.2 456.0 1828.1 457.5 1829.2 459.0 1829.3 460.5 1831.0 462.0 1834.1 463.5 1836.9 465.0 1836.8 466.5 1837.6 468.0 1838.0 469.5 1839.7 471.0 1840.2 472.5 1841.2 474.0 1841.0 475.5 1843.9 477.0 1844.8 478.5 1843.2 480.0 1847.1 481.5 1846.3 483.0 1846.0 484.5 1845.4 486.0 1848.2 487.5 1848.4 489.0 1847.5 490.5 1846.8 492.0 1849.9 493.5 1848.9 495.0 1849.8 496.5 1853.5 498.0 1853.5 499.5 1852.8 501.0 1852.0 502.5 1853.7 504.0 1851.8 505.5 1854.9 507.0 1855.1 508.5 1855.7 510.0 1856.6 511.5 1859.5 513.0 1860.0 514.5 1860.9 516.0 1862.1 517.5 1861.0 519.0 1860.9 520.5 1860.6 522.0 1862.3 523.5 1863.5 525.0 1863.0 526.5 1863.9 528.0 1862.3 529.5 1863.1 531.0 1862.9 532.5 1862.5 534.0 1865.4 535.5 1864.6 537.0 1863.3 538.5 1863.6 540.0 1864.5 541.5 1863.7 543.0 1865.9 544.5 1864.7 546.0 1865.6 547.5 1864.9 549.0 1865.2 550.5 1864.3 552.0 1863.8 553.5 1864.0 555.0 1864.1 556.5 1864.4 558.0 1864.7 559.5 1866.1 561.0 1865.6 562.5 1864.9 564.0 1865.9 565.5 1864.8 567.0 1866.9 568.5 1866.3 570.0 1864.9 571.5 1867.1 573.0 1867.3 574.5 1864.2 576.0 1865.8 577.5 1865.8 579.0 1864.2 580.5 1864.9 582.0 1865.0 583.5 1866.5 585.0 1866.7 586.5 1869.1 588.0 1866.5 589.5 1867.9 591.0 1867.1 592.5 1867.6 594.0 1866.6 595.5 1866.2 597.0 1867.4 598.5 1868.6 600.0 1868.9 601.5 1867.6 603.0 1867.2 604.5 1865.8 606.0 1868.0 607.5 1867.9 609.0 1866.5 610.5 1867.1 612.0 1866.6 613.5 1869.1 615.0 1868.3 616.5 1867.8 618.0 1868.0 619.5 1867.7 621.0 1866.6 622.5 1865.6 624.0 1865.7 625.5 1865.5 627.0 1867.9 628.5 1869.8 630.0 1866.4 631.5 1867.9 633.0 1868.0 634.5 1866.8 636.0 1868.1 637.5 1867.3 639.0 1869.6 640.5 1868.0 642.0 1868.3 643.5 1868.4 645.0 1867.1 646.5 1865.7 648.0 1866.9 649.5 1868.1 651.0 1867.4 652.5 1867.4 654.0 1865.9 655.5 1866.6 657.0 1866.6 658.5 1865.6 660.0 1867.1 661.5 1865.3 663.0 1865.1 664.5 1865.3 666.0 1868.4 667.5 1867.7 669.0 1868.7 670.5 1867.9 672.0 1868.6 673.5 1868.0 675.0 1866.7 676.5 1867.6 678.0 1868.7 679.5 1866.9 681.0 1869.2 682.5 1868.8 684.0 1868.4 685.5 1867.3 687.0 1867.8 688.5 1866.8 690.0 1868.1 691.5 1867.5 693.0 1868.0 694.5 1867.5 696.0 1868.3 697.5 1869.4 699.0 1867.4 700.5 1869.6 702.0 1866.8 703.5 1866.0 705.0 1867.0 706.5 1866.5 708.0 1866.5 709.5 1864.5 711.0 1866.0 712.5 1866.2 714.0 1867.2 715.5 1865.8 717.0 1866.2 718.5 1864.9 720.0 1865.9 721.5 1866.1 723.0 1867.5 724.5 1866.2 726.0 1866.2 727.5 1867.1 729.0 1867.8 730.5 1866.3 732.0 1866.2 733.5 1865.6 735.0 1866.6 736.5 1865.7 738.0 1866.2 739.5 1864.5 741.0 1863.3 742.5 1864.0 744.0 1864.2 745.5 1864.4 747.0 1866.9 748.5 1866.4 750.0 1864.3 751.5 1866.8 753.0 1865.4 754.5 1864.3 756.0 1865.5 757.5 1865.1 759.0 1864.5 760.5 1863.3 762.0 1864.8 763.5 1865.0 765.0 1862.4 766.5 1865.4 768.0 1865.7 769.5 1864.9 771.0 1865.8 772.5 1865.6 774.0 1865.3 775.5 1865.9 777.0 1867.6 778.5 1865.3 780.0 1867.1 781.5 1867.4 783.0 1867.0 784.5 1867.6 786.0 1866.8 787.5 1867.0 789.0 1867.1 790.5 1866.5 792.0 1864.5 793.5 1867.6 795.0 1864.2 796.5 1865.1 798.0 1865.2 799.5 1865.3 801.0 1866.9 802.5 1865.2 804.0 1866.6 805.5 1866.2 807.0 1864.1 808.5 1866.0 810.0 1864.6 811.5 1867.7 813.0 1864.7 814.5 1863.7 816.0 1862.1 817.5 1861.8 819.0 1861.7 820.5 1860.9 822.0 1860.4 823.5 1860.4 825.0 1860.2 826.5 1860.7 828.0 1856.8 829.5 1856.8 831.0 1855.4 832.5 1853.8 834.0 1852.9 835.5 1851.8 837.0 1851.6 838.5 1848.9 840.0 1846.8 841.5 1846.1 843.0 1844.1 844.5 1841.9 846.0 1840.7 847.5 1837.7 849.0 1837.2 850.5 1835.2 852.0 1832.7 853.5 1830.2 855.0 1830.8 856.5 1827.5 858.0 1828.0 859.5 1822.7 861.0 1822.2 862.5 1819.3 864.0 1818.3 865.5 1816.9 867.0 1813.2 868.5 1811.4 870.0 1809.0 871.5 1806.3 873.0 1804.2 874.5 1802.4 876.0 1800.2 877.5 1797.8 879.0 1795.4 880.5 1792.8 882.0 1791.3 883.5 1789.6 885.0 1789.1 886.5 1786.7 888.0 1784.5 889.5 1784.8 891.0 1782.0 892.5 1780.7 894.0 1779.8 895.5 1779.3 897.0 1775.8 898.5 1776.2 900.0 1776.6 901.5 1775.4 903.0 1774.7 904.5 1775.1 906.0 1777.1 907.5 1775.9 909.0 1777.2 910.5 1777.5 912.0 1776.4 913.5 1777.0 915.0 1776.2 916.5 1776.3 918.0 1776.6 919.5 1779.6 921.0 1780.1 922.5 1781.7 924.0 1783.0 925.5 1787.5 927.0 1788.4 928.5 1790.0 930.0 1792.2 931.5 1794.5 933.0 1799.3 934.5 1802.6 936.0 1804.3 937.5 1809.8 939.0 1812.7 940.5 1814.5 942.0 1818.1 943.5 1821.3 945.0 1824.8 946.5 1827.4 948.0 1828.6 949.5 1833.6 951.0 1834.6 952.5 1837.3 954.0 1839.2 955.5 1839.7 957.0 1842.0 958.5 1844.1 960.0 1845.9 961.5 1846.6 963.0 1847.3 964.5 1848.9 966.0 1849.2 967.5 1850.7 969.0 1850.9 970.5 1854.4 972.0 1855.2 973.5 1857.1 975.0 1858.7 976.5 1859.9 978.0 1862.0 979.5 1861.3 981.0 1860.6 982.5 1862.9 984.0 1863.1 985.5 1864.7 987.0 1864.3 988.5 1864.6 990.0 1864.8 991.5 1864.6 993.0 1863.4 994.5 1864.6 996.0 1865.4 997.5 1866.6 999.0 1865.2 1000.5 1865.0 1002.0 1865.7 1003.5 1865.5 1005.0 1866.4 1006.5 1865.7 1008.0 1865.4 1009.5 1866.8 1011.0 1867.1 1012.5 1865.2 1014.0 1865.7 1015.5 1864.0 1017.0 1865.2 1018.5 1864.8 1020.0 1865.7 1021.5 1865.8 1023.0 1866.3 1024.5 1866.4 1026.0 1866.8 1027.5 1866.4 1029.0 1865.4 1030.5 1864.7 1032.0 1867.1 1033.5 1867.6 1035.0 1866.2 1036.5 1867.3 1038.0 1865.5 1039.5 1865.5 1041.0 1866.7 1042.5 1868.4 1044.0 1866.2 1045.5 1866.3 1047.0 1868.3 1048.5 1864.9 1050.0 1867.0 1051.5 1866.7 1053.0 1866.1 1054.5 1866.7 1056.0 1869.3 1057.5 1866.3 1059.0 1867.2 1060.5 1867.2 1062.0 1866.6 1063.5 1865.8 1065.0 1868.4 1066.5 1867.3 1068.0 1865.9 1069.5 1867.1 1071.0 1868.1 1072.5 1868.1 1074.0 1866.2 1075.5 1867.3 1077.0 1867.5 1078.5 1867.6 1080.0 1867.7 1081.5 1866.0 1083.0 1869.7 1084.5 1868.6 1086.0 1870.4 1087.5 1871.5 1089.0 1868.7 1090.5 1867.6 1092.0 1869.4 1093.5 1868.6 1095.0 1868.7 1096.5 1868.6 1098.0 1871.3 1099.5 1869.5 1101.0 1868.5 1102.5 1869.1 1104.0 1868.2 1105.5 1869.4 1107.0 1868.9 1108.5 1868.4 1110.0 1869.7 1111.5 1868.2 1113.0 1869.0 1114.5 1869.1 1116.0 1867.5 1117.5 1867.2 1119.0 1867.8 1120.5 1868.3 1122.0 1867.5 1123.5 1867.8 1125.0 1868.1 1126.5 1868.8 1128.0 1869.2 1129.5 1867.8 1131.0 1867.6 1132.5 1867.6 1134.0 1866.8 1135.5 1867.5 1137.0 1868.0 1138.5 1867.8 1140.0 1867.4 1141.5 1867.4 1143.0 1869.7 1144.5 1868.8 1146.0 1866.7 1147.5 1866.6 1149.0 1868.6 1150.5 1868.1 1152.0 1866.8 1153.5 1868.0 1155.0 1866.0 1156.5 1867.6 1158.0 1868.3 1159.5 1865.9 1161.0 1866.7 1162.5 1867.8 1164.0 1868.0 1165.5 1866.3 1167.0 1867.0 1168.5 1868.0 1170.0 1866.0 1171.5 1865.0 1173.0 1866.1 1174.5 1865.7 1176.0 1867.3 1177.5 1866.5 1179.0 1865.7 1180.5 1868.6 1182.0 1866.0 1183.5 1866.8 1185.0 1866.8 1186.5 1866.5 1188.0 1865.7 1189.5 1865.7 1191.0 1864.7 1192.5 1863.3 1194.0 1864.4 1195.5 1864.6 1197.0 1864.9 1198.5 1865.4 1200.0 1864.8 1201.5 1866.3 1203.0 1866.1 1204.5 1862.3 1206.0 1864.3 1207.5 1864.1 1209.0 1862.9 1210.5 1866.1 1212.0 1865.3 1213.5 1865.3 1215.0 1864.6 1216.5 1865.7 1218.0 1865.2 1219.5 1863.7 1221.0 1863.6 1222.5 1862.3 1224.0 1862.0 1225.5 1860.8 1227.0 1861.3 1228.5 1860.4 1230.0 1861.0 1231.5 1860.6 1233.0 1859.2 1234.5 1859.0 1236.0 1859.5 1237.5 1854.4 1239.0 1855.6 1240.5 1854.3 1242.0 1853.5 1243.5 1851.7 1245.0 1851.7 1246.5 1850.3 1248.0 1848.9 1249.5 1848.4 1251.0 1847.4 1252.5 1845.4 1254.0 1848.0 1255.5 1846.1 1257.0 1844.6 1258.5 1844.7 1260.0 1842.5 1261.5 1839.7 1263.0 1840.8 1264.5 1836.7 1266.0 1835.9 1267.5 1834.0 1269.0 1833.1 1270.5 1831.0 1272.0 1828.0 1273.5 1825.0 1275.0 1822.9 1276.5 1821.6 1278.0 1819.3 1279.5 1814.9 1281.0 1810.2 1282.5 1807.8 1284.0 1802.1 1285.5 1797.3 1287.0 1792.6 1288.5 1788.7 1290.0 1783.7 1291.5 1779.1 1293.0 1773.8 1294.5 1767.5 1296.0 1759.7 1297.5 1755.8 1299.0 1754.2 1300.5 1751.1 1302.0 1750.7 1303.5 1746.7 1305.0 1744.8 1306.5 1744.6 1308.0 1743.9 1309.5 1742.0 1311.0 1742.3 1312.5 1740.8 1314.0 1741.1 1315.5 1743.0 1317.0 1740.5 1318.5 1742.5 1320.0 1742.2 1321.5 1742.4 1323.0 1742.8 1324.5 1742.8 1326.0 1740.7 1327.5 1742.2 1329.0 1743.4 1330.5 1747.1 1332.0 1750.7 1333.5 1758.0 1335.0 1764.8 1336.5 1772.0 1338.0 1775.3 1339.5 1781.1 1341.0 1788.5 1342.5 1791.4 1344.0 1798.7 1345.5 1803.1 1347.0 1807.2 1348.5 1813.0 1350.0 1816.7 1351.5 1821.7 1353.0 1825.4 1354.5 1829.5 1356.0 1830.8 1357.5 1833.3 1359.0 1834.7 1360.5 1836.8 1362.0 1839.0 1363.5 1837.5 1365.0 1840.9 1366.5 1840.9 1368.0 1842.8 1369.5 1844.5 1371.0 1846.3 1372.5 1847.2 1374.0 1847.9 1375.5 1849.8 1377.0 1850.8 1378.5 1851.9 1380.0 1853.6 1381.5 1855.4 1383.0 1855.7 1384.5 1856.3 1386.0 1855.1 1387.5 1856.0 1389.0 1854.6 1390.5 1857.3 1392.0 1856.5 1393.5 1859.5 1395.0 1862.1 1396.5 1860.0 1398.0 1862.3 1399.5 1862.1 1401.0 1861.7 1402.5 1861.9 1404.0 1863.6 1405.5 1864.6 1407.0 1863.8 1408.5 1861.9 1410.0 1862.1 1411.5 1862.7 1413.0 1864.2 1414.5 1863.7 1416.0 1864.4 1417.5 1865.9 1419.0 1865.1 1420.5 1865.6 1422.0 1865.7 1423.5 1864.5 1425.0 1866.8 1426.5 1867.1 1428.0 1867.9 1429.5 1866.1 1431.0 1866.6 1432.5 1868.1 1434.0 1867.4 1435.5 1868.1 1437.0 1866.0 1438.5 1867.0 1440.0 1866.4 1441.5 1867.5 1443.0 1867.0 1444.5 1868.0 1446.0 1868.3 1447.5 1867.6 1449.0 1865.1 1450.5 1867.4 1452.0 1867.0 1453.5 1865.9 1455.0 1866.4 1456.5 1867.4 1458.0 1868.0 1459.5 1867.0 1461.0 1865.9 1462.5 1867.6 1464.0 1867.6 1465.5 1869.9 1467.0 1866.7 1468.5 1870.2 1470.0 1869.3 1471.5 1867.5 1473.0 1867.8 1474.5 1865.3 1476.0 1865.0 1477.5 1862.6 1479.0 1862.8 1480.5 1861.6 1482.0 1860.8 1483.5 1861.5 1485.0 1860.4 1486.5 1860.4 1488.0 1859.8 1489.5 1857.3 1491.0 1856.4 1492.5 1855.6 1494.0 1853.1 1495.5 1854.0 1497.0 1852.8 1498.5 1851.6 1500.0 1849.5 1501.5 1847.6 1503.0 1848.0 1504.5 1847.4 1506.0 1847.1 1507.5 1845.7 1509.0 1844.5 1510.5 1841.8 1512.0 1840.7 1513.5 1837.7 1515.0 1836.8 1516.5 1835.7 1518.0 1836.1 1519.5 1832.8 1521.0 1830.2 1522.5 1831.0 1524.0 1827.2 1525.5 1825.8 1527.0 1823.3 1528.5 1820.4 1530.0 1820.0 1531.5 1816.7 1533.0 1812.8 1534.5 1810.4 1536.0 1807.0 1537.5 1805.1 1539.0 1801.7 1540.5 1799.1 1542.0 1797.3 1543.5 1795.5 1545.0 1794.0 1546.5 1790.7 1548.0 1789.1 1549.5 1787.4 1551.0 1786.9 1552.5 1783.2 1554.0 1777.3 1555.5 1777.2 1557.0 1775.3 1558.5 1774.4 1560.0 1774.4 1561.5 1772.6 1563.0 1768.9 1564.5 1770.2 1566.0 1769.0 1567.5 1768.3 1569.0 1768.3 1570.5 1765.4 1572.0 1766.7 1573.5 1763.7 1575.0 1764.9 1576.5 1765.0 1578.0 1766.4 1579.5 1763.1 1581.0 1761.4 1582.5 1763.0 1584.0 1761.5 1585.5 1763.6 1587.0 1762.0 1588.5 1762.5 1590.0 1764.9 1591.5 1764.2 1593.0 1764.9 1594.5 1762.4 1596.0 1764.8 1597.5 1762.4 1599.0 1763.5 1600.5 1762.0 1602.0 1762.1 1603.5 1764.4 1605.0 1766.3 1606.5 1769.4 1608.0 1770.3 1609.5 1772.5 1611.0 1774.1 1612.5 1778.1 1614.0 1777.1 1615.5 1782.0 1617.0 1784.3 1618.5 1788.3 1620.0 1791.4 1621.5 1796.5 1623.0 1797.4 1624.5 1800.2 1626.0 1803.9 1627.5 1805.7 1629.0 1810.2 1630.5 1813.4 1632.0 1815.0 1633.5 1819.5 1635.0 1821.1 1636.5 1824.1 1638.0 1826.2 1639.5 1829.7 1641.0 1829.8 1642.5 1830.7 1644.0 1832.4 1645.5 1835.9 1647.0 1834.7 1648.5 1837.1 1650.0 1838.6 1651.5 1838.1 1653.0 1841.5 1654.5 1844.5 1656.0 1845.5 1657.5 1845.9 1659.0 1848.6 1660.5 1849.3 1662.0 1851.4 1663.5 1849.7 1665.0 1850.7 1666.5 1851.9 1668.0 1852.4 1669.5 1853.2 1671.0 1853.5 1672.5 1853.5 1674.0 1853.2 1675.5 1854.6 1677.0 1854.3 1678.5 1855.2 1680.0 1856.2 1681.5 1857.9 1683.0 1859.0 1684.5 1858.1 1686.0 1859.9 1687.5 1860.7 1689.0 1860.2 1690.5 1859.2 1692.0 1859.5 1693.5 1862.9 1695.0 1863.8 1696.5 1863.9 1698.0 1863.3 1699.5 1866.1 1701.0 1866.7 1702.5 1866.4 1704.0 1867.0 1705.5 1865.9 1707.0 1868.4 1708.5 1866.0 1710.0 1867.9 1711.5 1868.0 1713.0 1867.7 1714.5 1869.4 1716.0 1867.9 1717.5 1868.6 1719.0 1868.4 1720.5 1867.3 1722.0 1866.3 1723.5 1867.7 1725.0 1867.2 1726.5 1867.1 1728.0 1867.6 1729.5 1868.2 1731.0 1870.2 1732.5 1868.0 1734.0 1867.3 1735.5 1866.3 1737.0 1865.9 1738.5 1865.0 1740.0 1866.7 1741.5 1866.4 1743.0 1865.4 1744.5 1865.1 1746.0 1866.3 1747.5 1866.5 1749.0 1866.1 1750.5 1867.9 1752.0 1868.0 1753.5 1867.8 1755.0 1868.3 1756.5 1866.3 1758.0 1867.3 1759.5 1864.3 1761.0 1865.1 1762.5 1864.8 1764.0 1863.8 1765.5 1864.2 1767.0 1862.6 1768.5 1862.3 1770.0 1863.3 1771.5 1862.7 1773.0 1864.0 1774.5 1863.5 1776.0 1864.2 1777.5 1864.0 1779.0 1863.9 1780.5 1863.9 1782.0 1863.6 1783.5 1863.9 1785.0 1866.8 1786.5 1864.0 1788.0 1865.9 1789.5 1867.2 1791.0 1866.9 1792.5 1867.9 1794.0 1867.4 1795.5 1866.0 1797.0 1867.1 1798.5 1866.2 1800.0 1868.3 1801.5 1868.6 1803.0 1866.8 1804.5 1867.5 1806.0 1866.4 1807.5 1865.3 1809.0 1866.0 1810.5 1864.8 1812.0 1865.7 1813.5 1866.3 1815.0 1866.5 1816.5 1866.7 1818.0 1864.9 1819.5 1865.0 1821.0 1864.7 1822.5 1864.5 1824.0 1861.2 1825.5 1863.0 1827.0 1864.6 1828.5 1863.1 1830.0 1864.6 1831.5 1865.3 1833.0 1862.8 1834.5 1864.2 1836.0 1864.5 1837.5 1864.3 1839.0 1862.9 1840.5 1864.7 1842.0 1864.0 1843.5 1865.2 1845.0 1864.7 1846.5 1863.7 1848.0 1864.1 1849.5 1862.6 1851.0 1861.8 1852.5 1859.9 1854.0 1859.7 1855.5 1858.9 1857.0 1856.4 1858.5 1854.6 1860.0 1852.5 1861.5 1851.0 1863.0 1850.3 1864.5 1846.3 1866.0 1847.4 1867.5 1843.4 1869.0 1843.4 1870.5 1840.8 1872.0 1837.9 1873.5 1837.4 1875.0 1835.5 1876.5 1834.0 1878.0 1832.6 1879.5 1829.6 1881.0 1828.1 1882.5 1827.2 1884.0 1825.5 1885.5 1825.7 1887.0 1825.0 1888.5 1823.4 1890.0 1821.6 1891.5 1819.2 1893.0 1818.8 1894.5 1815.2 1896.0 1816.1 1897.5 1816.0 1899.0 1816.8 1900.5 1816.1 1902.0 1815.6 1903.5 1813.9 1905.0 1813.6 1906.5 1810.7 1908.0 1810.6 1909.5 1807.7 1911.0 1810.2 1912.5 1809.2 1914.0 1806.7 1915.5 1805.9 1917.0 1804.3 1918.5 1804.5 1920.0 1806.0 1921.5 1806.1 1923.0 1805.5 1924.5 1807.2 1926.0 1807.9 1927.5 1809.7 1929.0 1810.5 1930.5 1810.2 1932.0 1811.3 1933.5 1812.5 1935.0 1812.3 1936.5 1816.5 1938.0 1818.8 1939.5 1822.2 1941.0 1822.6 1942.5 1827.7 1944.0 1828.9 1945.5 1831.8 1947.0 1834.7 1948.5 1834.5 1950.0 1836.8 1951.5 1840.9 1953.0 1840.9 1954.5 1842.9 1956.0 1845.9 1957.5 1846.8 1959.0 1849.2 1960.5 1850.2 1962.0 1851.0 1963.5 1852.7 1965.0 1854.6 1966.5 1853.3 1968.0 1855.4 1969.5 1855.8 1971.0 1855.6 1972.5 1856.6 1974.0 1856.1 1975.5 1857.2 1977.0 1858.8 1978.5 1859.0 1980.0 1860.6 1981.5 1858.6 1983.0 1859.9 1984.5 1859.9 1986.0 1860.5 1987.5 1861.8 1989.0 1859.5 1990.5 1861.2 1992.0 1860.0 1993.5 1860.8 1995.0 1862.8 1996.5 1862.6 1998.0 1864.2 1999.5 1864.3 2001.0 1864.2 2002.5 1864.1 2004.0 1862.9 2005.5 1863.8 2007.0 1864.7 2008.5 1864.9 2010.0 1863.6 2011.5 1866.2 2013.0 1866.3 2014.5 1865.0 2016.0 1865.4 2017.5 1866.9 2019.0 1864.7 2020.5 1865.5 2022.0 1866.1 2023.5 1866.3 2025.0 1866.8 2026.5 1867.7 2028.0 1867.0 2029.5 1867.3 2031.0 1869.5 2032.5 1866.0 2034.0 1866.5 2035.5 1866.8 2037.0 1866.0 2038.5 1867.7 2040.0 1866.7 2041.5 1867.3 2043.0 1864.2 2044.5 1867.5 2046.0 1867.5 2047.5 1865.9 2049.0 1867.8 2050.5 1866.9 2052.0 1867.5 2053.5 1868.3 2055.0 1866.8 2056.5 1865.8 2058.0 1866.7 2059.5 1865.5 2061.0 1865.9 2062.5 1865.8 2064.0 1865.6 2065.5 1867.1 2067.0 1866.7 2068.5 1865.2 2070.0 1867.1 2071.5 1864.7 2073.0 1865.8 2074.5 1866.5 2076.0 1867.7 2077.5 1867.0 2079.0 1866.4 2080.5 1866.6 2082.0 1865.6 2083.5 1866.0 2085.0 1864.2 2086.5 1863.6 2088.0 1864.9 2089.5 1866.0 2091.0 1865.3 2092.5 1865.7 2094.0 1865.5 2095.5 1865.4 2097.0 1865.7 2098.5 1864.2 2100.0 1865.6 2101.5 1863.6 2103.0 1864.5 2104.5 1863.7 2106.0 1865.8 2107.5 1864.1 2109.0 1866.6 2110.5 1863.5 2112.0 1864.2 2113.5 1863.3 2115.0 1862.4 2116.5 1864.5 2118.0 1863.4 2119.5 1865.4 2121.0 1863.3 2122.5 1863.5 2124.0 1862.4 2125.5 1864.8 2127.0 1865.3 2128.5 1864.8 2130.0 1864.5 2131.5 1863.6 2133.0 1866.4 2134.5 1864.8 2136.0 1862.6 2137.5 1864.1 2139.0 1862.4 2140.5 1866.6 2142.0 1867.5 2143.5 1867.6 2145.0 1866.7 2146.5 1866.5 2148.0 1865.8 2149.5 1867.3 2151.0 1865.9 2152.5 1866.3 2154.0 1866.3 2155.5 1866.9 2157.0 1868.3 2158.5 1869.0 2160.0 1867.6 2161.5 1867.2 2163.0 1865.9 2164.5 1865.6 2166.0 1865.5 2167.5 1866.9 2169.0 1865.8 2170.5 1865.8 2172.0 1864.7 2173.5 1863.5 2175.0 1862.6 2176.5 1863.5 2178.0 1862.7 2179.5 1865.9 2181.0 1864.2 2182.5 1863.4 2184.0 1865.3 2185.5 1863.1 2187.0 1864.1 2188.5 1863.6 2190.0 1864.2 2191.5 1863.6 2193.0 1864.4 2194.5 1865.3 2196.0 1863.0 2197.5 1862.5 2199.0 1866.2"/>
<path stroke="#000000" d="M156.0 2359.8L157.5 2356.2 159.0 2359.4 160.5 2358.9 162.0 2359.3 163.5 2359.6 165.0 2358.2 166.5 2359.9 168.0 2359.4 169.5 2363.1 171.0 2360.4 172.5 2360.0 174.0 2360.1 175.5 2359.4 177.0 2358.4 178.5 2358.1 180.0 2357.8 181.5 2356.2 183.0 2356.9 184.5 2356.0 186.0 2356.6 187.5 2358.8 189.0 2359.0 190.5 2359.1 192.0 2360.3 193.5 2361.7 195.0 2363.3 196.5 2361.4 198.0 2361.3 199.5 2362.2 201.0 2360.4 202.5 2360.9 204.0 2361.9 205.5 2361.7 207.0 2361.4 208.5 2362.1 210.0 2359.1 211.5 2362.6 213.0 2360.8 214.5 2360.0 216.0 2361.6 217.5 2361.9 219.0 2361.0 220.5 2360.3 222.0 2360.9 223.5 2360.2 225.0 2360.6 226.5 2358.9 228.0 2357.4 229.5 2357.6 231.0 2356.1 232.5 2355.9 234.0 2358.2 235.5 2359.3 237.0 2359.8 238.5 2360.3 240.0 2361.8 241.5 2359.3 243.0 2362.0 244.5 2361.7 246.0 2359.9 247.5 2361.6 249.0 2360.8 250.5 2362.3 252.0 2359.6 253.5 2360.3 255.0 2361.4 256.5 2361.6 258.0 2358.6 259.5 2360.0 261.0 2360.4 262.5 2359.1 264.0 2360.5 265.5 2357.3 267.0 2357.9 268.5 2356.0 270.0 2357.6 271.5 2355.9 273.0 2355.4 274.5 2354.2 276.0 2357.4 277.5 2356.7 279.0 2356.8 280.5 2356.9 282.0 2355.7 283.5 2354.0 285.0 2352.8 286.5 2351.6 288.0 2352.3 289.5 2348.5 291.0 2348.2 292.5 2347.5 294.0 2347.3 295.5 2347.1 297.0 2344.8 298.5 2343.7 300.0 2344.3 301.5 2344.2 303.0 2342.6 304.5 2341.0 306.0 2339.6 307.5 2339.3 309.0 2337.9 310.5 2337.8 312.0 2334.9 313.5 2334.0 315.0 2331.8 316.5 2330.3 318.0 2327.9 319.5 2327.9 321.0 2324.8 322.5 2322.6 324.0 2317.0 325.5 2315.8 327.0 2312.5 328.5 2310.3 330.0 2304.5 331.5 2304.4 333.0 2300.9 334.5 2294.9 336.0 2290.8 337.5 2286.2 339.0 2281.9 340.5 2277.1 342.0 2272.9 343.5 2265.3 345.0 2260.4 346.5 2253.6 348.0 2248.5 349.5 2240.4 351.0 2233.4 352.5 2223.3 354.0 2215.6 355.5 2206.0 357.0 2198.0 358.5 2186.1 360.0 2173.2 361.5 2160.4 363.0 2147.3 364.5 2130.2 366.0 2112.7 367.5 2096.7 369.0 2082.3 370.5 2064.8 372.0 2050.0 373.5 2035.7 375.0 2023.0 376.5 2012.5 378.0 2001.1 379.5 1990.6 381.0 1984.0 382.5 1978.0 384.0 1974.2 385.5 1972.6 387.0 1976.6 388.5 1981.8 390.0 1987.2 391.5 1997.2 393.0 2008.7 394.5 2021.3 396.0 2034.2 397.5 2045.4 399.0 2059.2 400.5 2075.6 402.0 2095.7 403.5 2119.5 405.0 2135.5 406.5 2154.2 408.0 2167.4 409.5 2181.0 411.0 2193.8 412.5 2205.7 414.0 2216.9 415.5 2226.8 417.0 2237.8 418.5 2244.7 420.0 2252.6 421.5 2260.6 423.0 2265.8 424.5 2274.2 426.0 2278.8 427.5 2285.2 429.0 2288.5 430.5 2293.3 432.0 2298.5 433.5 2303.3 435.0 2305.7 436.5 2309.6 438.0 2311.8 439.5 2315.6 441.0 2315.9 442.5 2319.8 444.0 2320.6 445.5 2322.3 447.0 2324.3 448.5 2325.6 450.0 2328.6 451.5 2331.4 453.0 2332.6 454.5 2334.9 456.0 2337.6 457.5 2338.1 459.0 2339.8 460.5 2341.1 462.0 2341.4 463.5 2344.6 465.0 2343.0 466.5 2345.4 468.0 2345.1 469.5 2346.7 471.0 2346.5 472.5 2347.0 474.0 2349.2 475.5 2349.3 477.0 2350.3 478.5 2350.8 480.0 2350.8 481.5 2351.0 483.0 2350.8 484.5 2352.0 486.0 2350.9 487.5 2353.4 489.0 2353.0 490.5 2355.5 492.0 2356.0 493.5 2353.5 495.0 2355.9 496.5 2356.3 498.0 2356.3 499.5 2358.5 501.0 2358.4 502.5 2357.7 504.0 2359.2 505.5 2359.3 507.0 2359.6 508.5 2358.6 510.0 2360.6 511.5 2361.0 513.0 2359.4 514.5 2359.8 516.0 2360.1 517.5 2359.7 519.0 2361.9 520.5 2360.7 522.0 2359.7 523.5 2359.7 525.0 2360.2 526.5 2362.2 528.0 2359.9 529.5 2360.3 531.0 2360.8 532.5 2360.7 534.0 2363.1 535.5 2360.7 537.0 2362.1 538.5 2361.8 540.0 2362.5 541.5 2361.2 543.0 2364.2 544.5 2362.7 546.0 2362.9 547.5 2361.9 549.0 2362.0 550.5 2363.1 552.0 2363.5 553.5 2363.6 555.0 2364.3 556.5 2364.0 558.0 2363.4 559.5 2364.0 561.0 2363.5 562.5 2362.6 564.0 2362.9 565.5 2363.1 567.0 2361.7 568.5 2360.8 570.0 2361.4 571.5 2362.5 573.0 2360.8 574.5 2361.2 576.0 2361.4 577.5 2362.6 579.0 2359.6 580.5 2361.4 582.0 2362.1 583.5 2360.5 585.0 2362.9 586.5 2362.4 588.0 2361.4 589.5 2361.9 591.0 2360.1 592.5 2360.8 594.0 2363.0 595.5 2360.7 597.0 2363.4 598.5 2362.1 600.0 2363.5 601.5 2363.2 603.0 2361.7 604.5 2363.6 606.0 2364.7 607.5 2363.6 609.0 2363.6 610.5 2365.2 612.0 2364.2 613.5 2363.1 615.0 2363.5 616.5 2364.2 618.0 2362.6 619.5 2363.9 621.0 2364.7 622.5 2363.9 624.0 2363.4 625.5 2363.6 627.0 2364.8 628.5 2365.5 630.0 2364.7 631.5 2364.7 633.0 2363.6 634.5 2364.2 636.0 2363.7 637.5 2364.2 639.0 2363.7 640.5 2363.8 642.0 2365.0 643.5 2364.6 645.0 2365.1 646.5 2367.0 648.0 2366.7 649.5 2369.6 651.0 2367.6 652.5 2365.4 654.0 2365.5 655.5 2363.9 657.0 2361.8 658.5 2362.7 660.0 2360.6 661.5 2358.1 663.0 2361.2 664.5 2359.6 666.0 2361.2 667.5 2358.9 669.0 2357.9 670.5 2359.7 672.0 2356.8 673.5 2357.6 675.0 2358.4 676.5 2357.1 678.0 2357.0 679.5 2357.2 681.0 2357.9 682.5 2356.6 684.0 2357.9 685.5 2357.9 687.0 2359.5 688.5 2357.1 690.0 2356.5 691.5 2358.0 693.0 2357.2 694.5 2358.2 696.0 2358.5 697.5 2359.9 699.0 2358.9 700.5 2360.0 702.0 2358.2 703.5 2360.0 705.0 2362.4 706.5 2360.4 708.0 2360.3 709.5 2359.9 711.0 2361.9 712.5 2361.9 714.0 2361.1 715.5 2363.0 717.0 2362.7 718.5 2363.1 720.0 2361.6 721.5 2363.3 723.0 2361.9 724.5 2361.3 726.0 2360.8 727.5 2361.0 729.0 2362.1 730.5 2361.2 732.0 2362.5 733.5 2362.2 735.0 2363.0 736.5 2362.6 738.0 2361.8 739.5 2360.0 741.0 2361.8 742.5 2362.1 744.0 2361.5 745.5 2361.8 747.0 2361.0 748.5 2361.3 750.0 2361.2 751.5 2363.6 753.0 2362.8 754.5 2362.4 756.0 2361.8 757.5 2362.9 759.0 2364.3 760.5 2363.2 762.0 2361.9 763.5 2363.5 765.0 2363.1 766.5 2362.4 768.0 2362.1 769.5 2362.5 771.0 2362.2 772.5 2362.7 774.0 2361.6 775.5 2363.8 777.0 2362.4 778.5 2363.7 780.0 2359.5 781.5 2361.5 783.0 2361.5 784.5 2360.2 786.0 2361.2 787.5 2361.9 789.0 2362.1 790.5 2361.2 792.0 2361.5 793.5 2362.3 795.0 2362.0 796.5 2360.4 798.0 2359.8 799.5 2359.4 801.0 2359.9 802.5 2358.0 804.0 2357.9 805.5 2359.2 807.0 2358.0 808.5 2358.1 810.0 2358.3 811.5 2358.2 813.0 2356.5 814.5 2357.8 816.0 2355.0 817.5 2356.3 819.0 2353.4 820.5 2352.6 822.0 2353.5 823.5 2351.9 825.0 2351.0 826.5 2351.0 828.0 2351.4 829.5 2350.3 831.0 2349.7 832.5 2349.8 834.0 2347.2 835.5 2346.3 837.0 2344.9 838.5 2344.8 840.0 2342.8 841.5 2341.1 843.0 2337.9 844.5 2335.8 846.0 2334.9 847.5 2332.1 849.0 2331.7 850.5 2330.2 852.0 2327.2 853.5 2325.9 855.0 2323.7 856.5 2323.2 858.0 2321.9 859.5 2317.5 861.0 2315.9 862.5 2312.4 864.0 2313.3 865.5 2311.7 867.0 2309.3 868.5 2309.5 870.0 2305.8 871.5 2305.4 873.0 2304.1 874.5 2301.1 876.0 2301.2 877.5 2299.8 879.0 2296.2 880.5 2295.1 882.0 2295.9 883.5 2294.3 885.0 2292.3 886.5 2292.1 888.0 2291.0 889.5 2289.5 891.0 2288.8 892.5 2286.9 894.0 2286.9 895.5 2285.8 897.0 2285.1 898.5 2285.5 900.0 2285.9 901.5 2285.6 903.0 2284.3 904.5 2286.7 906.0 2286.7 907.5 2289.1 909.0 2288.8 910.5 2290.4 912.0 2291.7 913.5 2294.8 915.0 2295.7 916.5 2297.6 918.0 2300.3 919.5 2301.5 921.0 2304.0 922.5 2305.7 924.0 2307.9 925.5 2311.4 927.0 2311.3 928.5 2313.8 930.0 2315.7 931.5 2318.8 933.0 2319.7 934.5 2322.9 936.0 2326.2 937.5 2329.1 939.0 2330.8 940.5 2332.3 942.0 2333.8 943.5 2336.9 945.0 2339.5 946.5 2340.2 948.0 2341.7 949.5 2343.4 951.0 2343.6 952.5 2345.4 954.0 2346.6 955.5 2348.2 957.0 2349.0 958.5 2349.0 960.0 2352.1 961.5 2353.4 963.0 2352.4 964.5 2353.5 966.0 2353.9 967.5 2354.9 969.0 2353.4 970.5 2356.7 972.0 2355.5 973.5 2357.5 975.0 2356.7 976.5 2356.3 978.0 2356.4 979.5 2357.1 981.0 2355.4 982.5 2355.9 984.0 2356.1 985.5 2355.4 987.0 2358.7 988.5 2358.7 990.0 2358.8 991.5 2360.4 993.0 2358.9 994.5 2360.0 996.0 2361.7 997.5 2361.0 999.0 2357.8 1000.5 2356.4 1002.0 2358.2 1003.5 2360.1 1005.0 2359.0 1006.5 2359.7 1008.0 2360.8 1009.5 2359.7 1011.0 2360.7 1012.5 2361.2 1014.0 2360.9 1015.5 2360.9 1017.0 2360.2 1018.5 2361.5 1020.0 2361.1 1021.5 2363.2 1023.0 2365.0 1024.5 2362.5 1026.0 2361.6 1027.5 2363.7 1029.0 2364.9 1030.5 2366.6 1032.0 2367.9 1033.5 2367.2 1035.0 2367.2 1036.5 2368.5 1038.0 2365.7 1039.5 2367.0 1041.0 2365.1 1042.5 2365.3 1044.0 2364.5 1045.5 2363.9 1047.0 2363.3 1048.5 2361.2 1050.0 2362.0 1051.5 2361.5 1053.0 2361.9 1054.5 2363.0 1056.0 2361.9 1057.5 2361.5 1059.0 2361.2 1060.5 2361.2 1062.0 2361.6 1063.5 2359.7 1065.0 2361.3 1066.5 2360.5 1068.0 2360.0 1069.5 2358.9 1071.0 2360.3 1072.5 2360.7 1074.0 2358.5 1075.5 2361.0 1077.0 2361.2 1078.5 2359.9 1080.0 2360.0 1081.5 2362.0 1083.0 2361.3 1084.5 2359.7 1086.0 2360.6 1087.5 2360.4 1089.0 2360.1 1090.5 2358.0 1092.0 2360.8 1093.5 2359.6 1095.0 2360.3 1096.5 2360.0 1098.0 2360.9 1099.5 2359.8 1101.0 2359.2 1102.5 2360.3 1104.0 2361.0 1105.5 2359.2 1107.0 2360.7 1108.5 2359.8 1110.0 2359.3 1111.5 2361.4 1113.0 2359.6 1114.5 2361.5 1116.0 2360.4 1117.5 2361.5 1119.0 2360.5 1120.5 2361.3 1122.0 2363.4 1123.5 2363.0 1125.0 2363.1 1126.5 2362.7 1128.0 2363.6 1129.5 2361.9 1131.0 2362.0 1132.5 2362.6 1134.0 2361.7 1135.5 2361.5 1137.0 2362.0 1138.5 2362.1 1140.0 2362.4 1141.5 2364.6 1143.0 2364.4 1144.5 2364.8 1146.0 2363.8 1147.5 2363.5 1149.0 2362.6 1150.5 2363.5 1152.0 2361.8 1153.5 2362.8 1155.0 2363.7 1156.5 2364.3 1158.0 2363.6 1159.5 2362.1 1161.0 2363.6 1162.5 2362.8 1164.0 2364.6 1165.5 2363.9 1167.0 2364.7 1168.5 2366.0 1170.0 2364.2 1171.5 2365.1 1173.0 2362.8 1174.5 2362.1 1176.0 2363.3 1177.5 2363.3 1179.0 2360.9 1180.5 2361.3 1182.0 2359.9 1183.5 2361.0 1185.0 2362.1 1186.5 2361.2 1188.0 2360.5 1189.5 2359.5 1191.0 2360.7 1192.5 2360.8 1194.0 2360.5 1195.5 2360.2 1197.0 2359.0 1198.5 2361.9 1200.0 2360.4 1201.5 2360.5 1203.0 2361.4 1204.5 2358.8 1206.0 2360.9 1207.5 2361.0 1209.0 2361.6 1210.5 2362.6 1212.0 2362.0 1213.5 2360.0 1215.0 2361.5 1216.5 2362.2 1218.0 2362.2 1219.5 2360.5 1221.0 2358.7 1222.5 2358.7 1224.0 2356.5 1225.5 2354.5 1227.0 2352.0 1228.5 2354.5 1230.0 2349.7 1231.5 2351.5 1233.0 2353.5 1234.5 2351.7 1236.0 2352.6 1237.5 2351.9 1239.0 2354.7 1240.5 2352.8 1242.0 2354.6 1243.5 2354.6 1245.0 2353.4 1246.5 2354.8 1248.0 2352.0 1249.5 2351.9 1251.0 2351.5 1252.5 2350.1 1254.0 2349.7 1255.5 2349.1 1257.0 2347.0 1258.5 2345.8 1260.0 2344.8 1261.5 2343.7 1263.0 2343.3 1264.5 2340.8 1266.0 2339.6 1267.5 2337.4 1269.0 2334.9 1270.5 2334.6 1272.0 2331.0 1273.5 2329.8 1275.0 2328.8 1276.5 2324.0 1278.0 2322.4 1279.5 2318.1 1281.0 2315.9 1282.5 2311.6 1284.0 2309.1 1285.5 2305.1 1287.0 2301.6 1288.5 2298.7 1290.0 2293.0 1291.5 2288.2 1293.0 2282.1 1294.5 2276.6 1296.0 2271.2 1297.5 2266.2 1299.0 2264.5 1300.5 2262.5 1302.0 2258.1 1303.5 2254.2 1305.0 2253.5 1306.5 2249.4 1308.0 2247.5 1309.5 2245.9 1311.0 2245.9 1312.5 2247.1 1314.0 2250.4 1315.5 2250.0 1317.0 2251.1 1318.5 2253.7 1320.0 2256.4 1321.5 2257.8 1323.0 2263.5 1324.5 2269.0 1326.0 2274.3 1327.5 2280.2 1329.0 2283.8 1330.5 2288.3 1332.0 2296.2 1333.5 2301.4 1335.0 2304.5 1336.5 2311.6 1338.0 2316.6 1339.5 2321.4 1341.0 2324.7 1342.5 2327.1 1344.0 2330.1 1345.5 2332.2 1347.0 2334.0 1348.5 2334.3 1350.0 2335.3 1351.5 2339.1 1353.0 2340.1 1354.5 2343.5 1356.0 2345.5 1357.5 2346.5 1359.0 2347.3 1360.5 2349.2 1362.0 2351.7 1363.5 2351.6 1365.0 2354.4 1366.5 2355.3 1368.0 2355.5 1369.5 2356.9 1371.0 2355.1 1372.5 2356.5 1374.0 2354.7 1375.5 2354.6 1377.0 2354.1 1378.5 2355.4 1380.0 2354.2 1381.5 2355.4 1383.0 2354.8 1384.5 2357.5 1386.0 2358.9 1387.5 2358.4 1389.0 2360.7 1390.5 2361.0 1392.0 2363.7 1393.5 2363.2 1395.0 2363.0 1396.5 2366.9 1398.0 2366.3 1399.5 2366.0 1401.0 2366.7 1402.5 2366.0 1404.0 2367.3 1405.5 2366.6 1407.0 2369.0 1408.5 2368.3 1410.0 2366.1 1411.5 2366.0 1413.0 2366.5 1414.5 2365.0 1416.0 2366.5 1417.5 2366.5 1419.0 2366.0 1420.5 2366.3 1422.0 2367.1 1423.5 2367.6 1425.0 2367.1 1426.5 2365.1 1428.0 2365.4 1429.5 2363.7 1431.0 2364.9 1432.5 2363.9 1434.0 2365.8 1435.5 2364.4 1437.0 2364.9 1438.5 2365.9 1440.0 2366.4 1441.5 2364.4 1443.0 2364.8 1444.5 2365.1 1446.0 2364.9 1447.5 2363.6 1449.0 2364.1 1450.5 2363.6 1452.0 2365.0 1453.5 2364.2 1455.0 2362.5 1456.5 2361.4 1458.0 2363.0 1459.5 2363.5 1461.0 2362.2 1462.5 2362.8 1464.0 2361.9 1465.5 2361.5 1467.0 2363.6 1468.5 2363.2 1470.0 2363.6 1471.5 2361.5 1473.0 2362.5 1474.5 2361.5 1476.0 2362.4 1477.5 2360.9 1479.0 2360.6 1480.5 2360.3 1482.0 2361.5 1483.5 2360.1 1485.0 2359.0 1486.5 2358.4 1488.0 2358.0 1489.5 2359.9 1491.0 2356.5 1492.5 2356.8 1494.0 2357.5 1495.5 2357.0 1497.0 2354.7 1498.5 2354.0 1500.0 2352.3 1501.5 2350.8 1503.0 2348.4 1504.5 2348.6 1506.0 2346.4 1507.5 2346.8 1509.0 2343.4 1510.5 2344.1 1512.0 2340.9 1513.5 2339.4 1515.0 2339.9 1516.5 2337.3 1518.0 2337.1 1519.5 2334.4 1521.0 2335.4 1522.5 2332.6 1524.0 2330.2 1525.5 2329.8 1527.0 2328.6 1528.5 2325.3 1530.0 2324.6 1531.5 2324.1 1533.0 2321.2 1534.5 2318.6 1536.0 2316.2 1537.5 2315.3 1539.0 2311.5 1540.5 2308.3 1542.0 2308.8 1543.5 2306.7 1545.0 2307.3 1546.5 2303.7 1548.0 2300.5 1549.5 2298.1 1551.0 2297.8 1552.5 2295.1 1554.0 2294.2 1555.5 2293.7 1557.0 2292.8 1558.5 2291.7 1560.0 2290.6 1561.5 2290.7 1563.0 2290.1 1564.5 2286.1 1566.0 2289.0 1567.5 2286.0 1569.0 2286.5 1570.5 2284.5 1572.0 2285.5 1573.5 2285.5 1575.0 2285.6 1576.5 2286.4 1578.0 2286.4 1579.5 2285.3 1581.0 2286.5 1582.5 2287.6 1584.0 2287.2 1585.5 2284.6 1587.0 2282.5 1588.5 2280.8 1590.0 2279.3 1591.5 2279.3 1593.0 2282.2 1594.5 2281.0 1596.0 2282.0 1597.5 2282.1 1599.0 2285.0 1600.5 2286.7 1602.0 2286.5 1603.5 2288.7 1605.0 2289.1 1606.5 2292.8 1608.0 2293.4 1609.5 2293.5 1611.0 2297.9 1612.5 2300.3 1614.0 2304.1 1615.5 2307.9 1617.0 2310.8 1618.5 2314.3 1620.0 2318.2 1621.5 2320.1 1623.0 2321.6 1624.5 2326.7 1626.0 2327.2 1627.5 2329.2 1629.0 2331.3 1630.5 2334.3 1632.0 2335.9 1633.5 2336.4 1635.0 2338.0 1636.5 2337.0 1638.0 2339.2 1639.5 2340.4 1641.0 2342.2 1642.5 2344.0 1644.0 2342.9 1645.5 2348.8 1647.0 2346.4 1648.5 2348.7 1650.0 2350.2 1651.5 2351.4 1653.0 2352.2 1654.5 2350.7 1656.0 2353.8 1657.5 2356.8 1659.0 2356.5 1660.5 2357.3 1662.0 2356.4 1663.5 2359.4 1665.0 2358.5 1666.5 2357.1 1668.0 2358.0 1669.5 2358.5 1671.0 2358.0 1672.5 2359.1 1674.0 2359.5 1675.5 2359.5 1677.0 2359.8 1678.5 2358.6 1680.0 2358.4 1681.5 2359.8 1683.0 2359.5 1684.5 2359.4 1686.0 2361.8 1687.5 2360.4 1689.0 2360.6 1690.5 2360.8 1692.0 2359.3 1693.5 2361.3 1695.0 2361.8 1696.5 2362.0 1698.0 2363.0 1699.5 2362.3 1701.0 2361.2 1702.5 2363.1 1704.0 2362.8 1705.5 2364.7 1707.0 2364.4 1708.5 2363.7 1710.0 2364.1 1711.5 2365.0 1713.0 2364.7 1714.5 2363.9 1716.0 2363.8 1717.5 2362.9 1719.0 2362.7 1720.5 2363.0 1722.0 2362.2 1723.5 2362.6 1725.0 2361.6 1726.5 2361.3 1728.0 2361.4 1729.5 2362.4 1731.0 2363.7 1732.5 2363.1 1734.0 2360.7 1735.5 2360.1 1737.0 2362.2 1738.5 2362.0 1740.0 2360.4 1741.5 2362.6 1743.0 2361.8 1744.5 2362.8 1746.0 2362.0 1747.5 2362.7 1749.0 2362.3 1750.5 2361.1 1752.0 2361.6 1753.5 2361.0 1755.0 2361.9 1756.5 2359.7 1758.0 2358.8 1759.5 2360.5 1761.0 2360.8 1762.5 2361.3 1764.0 2361.5 1765.5 2359.9 1767.0 2361.3 1768.5 2361.8 1770.0 2362.3 1771.5 2360.2 1773.0 2362.0 1774.5 2362.1 1776.0 2361.0 1777.5 2362.2 1779.0 2363.1 1780.5 2361.9 1782.0 2362.5 1783.5 2362.1 1785.0 2361.4 1786.5 2361.4 1788.0 2360.8 1789.5 2362.5 1791.0 2361.1 1792.5 2360.9 1794.0 2362.2 1795.5 2360.9 1797.0 2362.1 1798.5 2362.9 1800.0 2362.3 1801.5 2362.8 1803.0 2363.7 1804.5 2363.7 1806.0 2361.6 1807.5 2361.7 1809.0 2363.9 1810.5 2362.8 1812.0 2360.3 1813.5 2360.7 1815.0 2361.7 1816.5 2360.8 1818.0 2362.2 1819.5 2362.0 1821.0 2362.4 1822.5 2360.6 1824.0 2361.8 1825.5 2362.6 1827.0 2359.7 1828.5 2361.2 1830.0 2360.5 1831.5 2359.9 1833.0 2358.7 1834.5 2357.2 1836.0 2356.9 1837.5 2357.9 1839.0 2357.9 1840.5 2358.0 1842.0 2357.7 1843.5 2357.5 1845.0 2355.8 1846.5 2354.3 1848.0 2354.7 1849.5 2354.0 1851.0 2352.8 1852.5 2350.4 1854.0 2350.3 1855.5 2348.1 1857.0 2348.0 1858.5 2345.2 1860.0 2344.3 1861.5 2343.2 1863.0 2341.8 1864.5 2341.8 1866.0 2338.5 1867.5 2336.5 1869.0 2338.1 1870.5 2337.0 1872.0 2335.6 1873.5 2333.2 1875.0 2332.4 1876.5 2331.0 1878.0 2328.8 1879.5 2328.5 1881.0 2328.3 1882.5 2326.2 1884.0 2327.2 1885.5 2322.9 1887.0 2322.5 1888.5 2322.5 1890.0 2319.4 1891.5 2317.7 1893.0 2316.6 1894.5 2316.5 1896.0 2318.1 1897.5 2316.9 1899.0 2316.9 1900.5 2315.8 1902.0 2316.8 1903.5 2316.0 1905.0 2315.1 1906.5 2315.6 1908.0 2316.2 1909.5 2317.0 1911.0 2315.7 1912.5 2315.8 1914.0 2316.7 1915.5 2313.8 1917.0 2313.4 1918.5 2315.9 1920.0 2316.9 1921.5 2318.6 1923.0 2321.5 1924.5 2323.5 1926.0 2326.4 1927.5 2327.2 1929.0 2329.4 1930.5 2328.8 1932.0 2330.2 1933.5 2332.2 1935.0 2332.9 1936.5 2335.0 1938.0 2335.2 1939.5 2335.5 1941.0 2337.1 1942.5 2337.5 1944.0 2337.9 1945.5 2339.8 1947.0 2341.5 1948.5 2342.9 1950.0 2344.1 1951.5 2345.4 1953.0 2345.8 1954.5 2347.7 1956.0 2348.1 1957.5 2347.7 1959.0 2350.2 1960.5 2350.6 1962.0 2349.9 1963.5 2351.5 1965.0 2353.3 1966.5 2353.6 1968.0 2355.1 1969.5 2355.2 1971.0 2356.0 1972.5 2355.5 1974.0 2356.5 1975.5 2356.3 1977.0 2357.7 1978.5 2356.0 1980.0 2358.1 1981.5 2359.3 1983.0 2359.1 1984.5 2358.8 1986.0 2359.5 1987.5 2358.4 1989.0 2358.5 1990.5 2359.1 1992.0 2359.3 1993.5 2360.2 1995.0 2358.3 1996.5 2359.7 1998.0 2356.9 1999.5 2357.5 2001.0 2358.4 2002.5 2359.8 2004.0 2358.5 2005.5 2357.2 2007.0 2359.5 2008.5 2359.2 2010.0 2358.4 2011.5 2358.7 2013.0 2359.5 2014.5 2360.7 2016.0 2361.8 2017.5 2360.4 2019.0 2364.2 2020.5 2362.4 2022.0 2362.3 2023.5 2363.3 2025.0 2362.9 2026.5 2365.0 2028.0 2364.1 2029.5 2363.1 2031.0 2363.4 2032.5 2363.6 2034.0 2363.9 2035.5 2365.0 2037.0 2363.9 2038.5 2366.1 2040.0 2364.6 2041.5 2364.7 2043.0 2365.6 2044.5 2362.8 2046.0 2363.4 2047.5 2364.6 2049.0 2363.9 2050.5 2363.9 2052.0 2364.5 2053.5 2363.8 2055.0 2364.5 2056.5 2363.5 2058.0 2363.0 2059.5 2365.7 2061.0 2363.6 2062.5 2363.6 2064.0 2365.2 2065.5 2364.5 2067.0 2362.6 2068.5 2362.3 2070.0 2362.6 2071.5 2361.9 2073.0 2363.5 2074.5 2363.2 2076.0 2363.2 2077.5 2363.4 2079.0 2362.9 2080.5 2363.6 2082.0 2363.2 2083.5 2360.2 2085.0 2362.5 2086.5 2360.8 2088.0 2360.7 2089.5 2362.7 2091.0 2361.6 2092.5 2362.1 2094.0 2363.4 2095.5 2361.8 2097.0 2361.3 2098.5 2362.1 2100.0 2362.6 2101.5 2361.5 2103.0 2359.3 2104.5 2359.9 2106.0 2360.2 2107.5 2361.9 2109.0 2360.8 2110.5 2360.6 2112.0 2360.9 2113.5 2359.6 2115.0 2360.5 2116.5 2360.7 2118.0 2359.3 2119.5 2359.9 2121.0 2359.9 2122.5 2357.9 2124.0 2359.2 2125.5 2358.9 2127.0 2359.0 2128.5 2357.2 2130.0 2357.8 2131.5 2359.0 2133.0 2358.6 2134.5 2357.5 2136.0 2358.7 2137.5 2359.8 2139.0 2358.3 2140.5 2358.4 2142.0 2360.2 2143.5 2357.9 2145.0 2357.9 2146.5 2357.2 2148.0 2357.6 2149.5 2359.5 2151.0 2357.8 2152.5 2356.4 2154.0 2356.0 2155.5 2356.2 2157.0 2356.4 2158.5 2354.9 2160.0 2356.2 2161.5 2355.4 2163.0 2356.5 2164.5 2356.9 2166.0 2357.2 2167.5 2356.5 2169.0 2357.0 2170.5 2357.6 2172.0 2355.9 2173.5 2357.2 2175.0 2357.5 2176.5 2358.0 2178.0 2357.1 2179.5 2357.1 2181.0 2357.4 2182.5 2356.6 2184.0 2357.1 2185.5 2357.9 2187.0 2358.2 2188.5 2357.5 2190.0 2358.7 2191.5 2357.5 2193.0 2360.4 2194.5 2359.3 2196.0 2360.0 2197.5 2358.6 2199.0 2359.3 2200.5 2359.7 2202.0 2360.1"/>
</g>
<g stroke="#000" stroke-width="4" fill="none" stroke-linecap="butt">
<line x1="150" y1="432" x2="2202" y2="432"/>
<line x1="152" y1="430" x2="152" y2="1892"/>
<line x1="154" y1="1891" x2="154" y2="2401"/>
<line x1="2200" y1="430" x2="2200" y2="1889"/>
<line x1="2202" y1="1888" x2="2202" y2="2400"/>
<line x1="152" y1="2379" x2="2204" y2="2379"/>
<line x1="563.6" y1="2379" x2="563.6" y2="2401"/>
<line x1="973.2" y1="2379" x2="973.2" y2="2401"/>
<line x1="1382.8" y1="2379" x2="1382.8" y2="2401"/>
<line x1="1792.4" y1="2379" x2="1792.4" y2="2401"/>
</g>
<line x1="1670.3" y1="562.0" x2="1855.6" y2="562.0" stroke="#008000" stroke-width="4"/>
<g transform="translate(1897.5 589.0)"><text id="leg0" x="0" y="0" font-size="82">BWO3</text></g>
<line x1="1674.4" y1="1107.6" x2="1859.1" y2="1107.6" stroke="#000080" stroke-width="4"/>
<g transform="translate(1901.3 1135.0)"><text id="leg1" x="0" y="0" font-size="82">BWO2</text></g>
<line x1="1671.3" y1="1556.4" x2="1856.6" y2="1556.4" stroke="#800000" stroke-width="4"/>
<g transform="translate(1899.0 1584.0)"><text id="leg2" x="0" y="0" font-size="82">BWO1</text><rect x="200.66" y="-9.21" width="15.78" height="11.21" fill="#fff"/><rect x="223.77" y="-9.21" width="15.33" height="11.21" fill="#fff"/></g>
<line x1="1667.2" y1="2106.0" x2="1851.9" y2="2106.0" stroke="#000000" stroke-width="4"/>
<g transform="translate(1894.8 2132.0)"><text id="leg3" x="0" y="0" font-size="82" letter-spacing="-1">PC500</text></g>
<text x="153.0" y="2511" font-size="81" text-anchor="middle">20</text>
<text x="562.6" y="2511" font-size="81" text-anchor="middle">30</text>
<text x="972.2" y="2511" font-size="81" text-anchor="middle">40</text>
<text x="1381.8" y="2511" font-size="81" text-anchor="middle">50</text>
<text x="1791.4" y="2511" font-size="81" text-anchor="middle">60</text>
<text x="2201.0" y="2511" font-size="81" text-anchor="middle">70</text>
<text x="1041.7" y="2666" font-size="85">2</text><text transform="translate(1088.5 2666) scale(1.12 1)" font-size="82" style="font-family:'Liberation Serif',serif">θ</text><text x="1131.5" y="2666" font-size="82">,</text><text x="1174.1" y="2666" font-size="82">deg</text>
<text transform="translate(77.2 1580.6) rotate(-90)" font-size="80"><tspan font-size="83">I</tspan><tspan dx="-0.9">ntensity</tspan></text>
<g transform="translate(393.0 348.3) rotate(-90)"><text id="ann0" x="0" y="0" font-size="58">TiO<tspan font-size="39" dy="15">2</tspan><tspan dy="-15"> A (101)</tspan></text><rect x="208.76" y="-6.51" width="11.16" height="8.51" fill="#fff"/><rect x="225.10" y="-6.51" width="10.85" height="8.51" fill="#fff"/><rect x="273.27" y="-6.51" width="11.16" height="8.51" fill="#fff"/><rect x="289.61" y="-6.51" width="10.85" height="8.51" fill="#fff"/></g>
<g transform="translate(903.2 332.7) rotate(-90)"><text id="ann1" x="0" y="0" font-size="58">TiO<tspan font-size="39" dy="15">2</tspan><tspan dy="-15"> A (004)</tspan></text></g>
<g transform="translate(1325.2 336.7) rotate(-90)"><text id="ann2" x="0" y="0" font-size="58">TiO<tspan font-size="39" dy="15">2</tspan><tspan dy="-15"> A (200)</tspan></text></g>
<g transform="translate(1589.2 336.7) rotate(-90)"><text id="ann3" x="0" y="0" font-size="58">TiO<tspan font-size="39" dy="15">2</tspan><tspan dy="-15"> A (211)</tspan></text><rect x="241.02" y="-6.51" width="11.16" height="8.51" fill="#fff"/><rect x="257.36" y="-6.51" width="10.85" height="8.51" fill="#fff"/><rect x="273.27" y="-6.51" width="11.16" height="8.51" fill="#fff"/><rect x="289.61" y="-6.51" width="10.85" height="8.51" fill="#fff"/></g>
<g transform="translate(1930.2 336.7) rotate(-90)"><text id="ann4" x="0" y="0" font-size="58">TiO<tspan font-size="39" dy="15">2</tspan><tspan dy="-15"> A (204)</tspan></text></g>
</svg></body></html>
